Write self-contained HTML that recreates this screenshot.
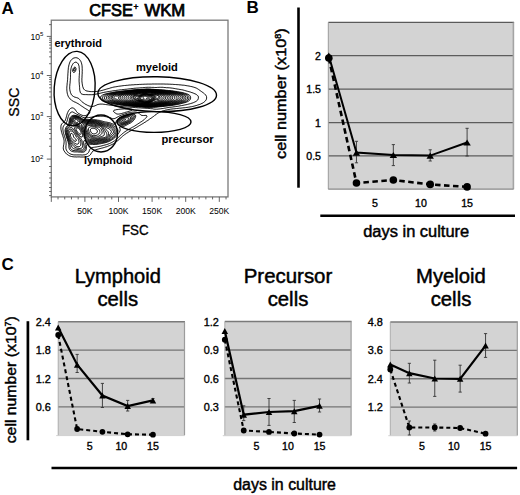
<!DOCTYPE html><html><head><meta charset="utf-8"><style>html,body{margin:0;padding:0;background:#fff;}svg{display:block;}text{font-family:"Liberation Sans",sans-serif;fill:#000;}</style></head><body>
<svg width="520" height="495" viewBox="0 0 520 495">
<rect width="520" height="495" fill="#fff"/>
<text x="1.6" y="13.7" font-size="17" text-anchor="start" font-weight="bold" >A</text>
<text x="246.4" y="13.4" font-size="17" text-anchor="start" font-weight="bold" >B</text>
<text x="1.5" y="270" font-size="17" text-anchor="start" font-weight="bold" >C</text>
<rect x="51.3" y="20.2" width="176.7" height="176.7" fill="none" stroke="#7a7a7a" stroke-width="1.3"/>
<path d="M51.3 36.4h-4.5M51.3 24.63h-2.2M51.3 75.5h-4.5M51.3 63.73h-2.2M51.3 56.84h-2.2M51.3 51.96h-2.2M51.3 48.17h-2.2M51.3 45.07h-2.2M51.3 42.46h-2.2M51.3 40.19h-2.2M51.3 38.19h-2.2M51.3 116.6h-4.5M51.3 104.23h-2.2M51.3 96.99h-2.2M51.3 91.86h-2.2M51.3 87.87h-2.2M51.3 84.62h-2.2M51.3 81.87h-2.2M51.3 79.48h-2.2M51.3 77.38h-2.2M51.3 159.1h-4.5M51.3 146.31h-2.2M51.3 138.82h-2.2M51.3 133.51h-2.2M51.3 129.39h-2.2M51.3 126.03h-2.2M51.3 123.18h-2.2M51.3 120.72h-2.2M51.3 118.54h-2.2M51.3 166.5h-2.2M51.3 172.5h-2.2M51.3 178h-2.2M51.3 183h-2.2M51.3 187.5h-2.2M51.3 191.5h-2.2M51.3 195.6h-2.2" stroke="#555" stroke-width="0.9" fill="none"/>
<text x="43.4" y="39.5" font-size="8.6" text-anchor="end">10<tspan font-size="6" dy="-3.6">5</tspan></text>
<text x="43.4" y="78.6" font-size="8.6" text-anchor="end">10<tspan font-size="6" dy="-3.6">4</tspan></text>
<text x="43.4" y="119.7" font-size="8.6" text-anchor="end">10<tspan font-size="6" dy="-3.6">3</tspan></text>
<text x="43.4" y="162.2" font-size="8.6" text-anchor="end">10<tspan font-size="6" dy="-3.6">2</tspan></text>
<path d="M51.3 196.9v5M58.02 196.9v2.5M64.74 196.9v2.5M71.46 196.9v2.5M78.18 196.9v2.5M84.9 196.9v5M91.62 196.9v2.5M98.34 196.9v2.5M105.06 196.9v2.5M111.78 196.9v2.5M118.5 196.9v5M125.22 196.9v2.5M131.94 196.9v2.5M138.66 196.9v2.5M145.38 196.9v2.5M152.1 196.9v5M158.82 196.9v2.5M165.54 196.9v2.5M172.26 196.9v2.5M178.98 196.9v2.5M185.7 196.9v5M192.42 196.9v2.5M199.14 196.9v2.5M205.86 196.9v2.5M212.58 196.9v2.5M219.3 196.9v5M226.02 196.9v2.5" stroke="#555" stroke-width="0.9" fill="none"/>
<text x="84.9" y="214" font-size="8.6" text-anchor="middle" font-weight="normal" >50K</text>
<text x="118.5" y="214" font-size="8.6" text-anchor="middle" font-weight="normal" >100K</text>
<text x="152.1" y="214" font-size="8.6" text-anchor="middle" font-weight="normal" >150K</text>
<text x="185.7" y="214" font-size="8.6" text-anchor="middle" font-weight="normal" >200K</text>
<text x="219.3" y="214" font-size="8.6" text-anchor="middle" font-weight="normal" >250K</text>
<text x="121.9" y="234.6" font-size="14.2" text-anchor="start" font-weight="normal" stroke="#000" stroke-width="0.3" textLength="26.8" lengthAdjust="spacingAndGlyphs">FSC</text>
<text transform="translate(18.5 102.1) rotate(-90)" font-size="14.2" text-anchor="middle" stroke="#000" stroke-width="0.3">SSC</text>
<text x="89.3" y="15.7" font-size="16" text-anchor="start" font-weight="normal" stroke="#000" stroke-width="0.75" textLength="43.6" lengthAdjust="spacingAndGlyphs">CFSE</text>
<text x="133.6" y="9.6" font-size="8.5" text-anchor="start" font-weight="normal" stroke="#000" stroke-width="0.5" >+</text>
<text x="144.4" y="15.7" font-size="16" text-anchor="start" font-weight="normal" stroke="#000" stroke-width="0.75" textLength="40.8" lengthAdjust="spacingAndGlyphs">WKM</text>
<text x="54.4" y="46.9" font-size="11" text-anchor="start" font-weight="bold" textLength="47.5" lengthAdjust="spacingAndGlyphs">erythroid</text>
<text x="136" y="71.1" font-size="11" text-anchor="start" font-weight="bold" textLength="41.9" lengthAdjust="spacingAndGlyphs">myeloid</text>
<text x="161.5" y="143.1" font-size="11" text-anchor="start" font-weight="bold" textLength="52.2" lengthAdjust="spacingAndGlyphs">precursor</text>
<text x="84" y="163.6" font-size="11" text-anchor="start" font-weight="bold" textLength="48.3" lengthAdjust="spacingAndGlyphs">lymphoid</text>
<g id="contours" fill="none" stroke="#000" stroke-width="1">
<path d="M84.2 157 83.5 157 82.8 157 82 157 81.2 157 80.5 157 79.8 156.9 79 156.9 78.2 156.9 77.5 156.9 76.8 157 76 156.9 75.2 156.9 74.5 156.9 73.8 156.8 73 156.8 72.2 156.6 71.5 156.5 70.8 156.3 70 156 69.2 155.7 68.5 155.3 67.8 154.8 67 154.3 66.4 153.8 65.9 153.2 65.2 152.6 64.8 152 64.3 151.2 63.9 150.5 63.6 149.8 63.4 149 63.3 148.2 63.3 147.5 63.4 146.8 63.5 146 63.6 145.2 63.8 144.5 63.9 143.8 64 143 64.1 142.2 64.1 141.5 64.1 140.8 64 140 63.8 139.2 63.6 138.5 63.4 137.8 63.2 137 62.9 136.2 62.7 135.5 62.4 134.8 62.2 134 61.9 133.2 61.7 132.5 61.5 131.8 61.3 131 61.2 130.2 61 129.5 60.9 128.8 60.9 128 60.9 127.2 60.9 126.5 61 125.8 61.2 125 61.6 124.2 62.2 123.5 62.7 123 63.2 122.5 63.8 122 64.4 121.5 65 120.8 65.4 120 65.7 119.2 65.9 118.5 66.1 117.8 66.3 117 66.5 116.3 66.7 115.5 66.9 114.8 67.1 114 67.4 113.2 67.7 112.5 68 111.8 68.4 111 68.8 110.4 69.2 109.8 69.8 109.1 70.5 108.5 71.2 108.1 72 107.9 72.8 107.9 73.5 108.2 74.2 108.6 74.9 109.2 75.5 110 76 110.8 76.5 111.5 77 112.1 77.5 112.7 78.2 113.2 79 113.7 79.8 114.1 80.5 114.5 81.2 114.9 82 115.2 82.8 115.5 83.5 115.6 84.2 115.7 85 115.6 85.7 115.5 86.4 115.2 87.2 114.9 87.9 114.5 88.7 114 89.2 113.5 89.7 112.8 89.8 112 89.3 111.2 88.8 110.8 88.1 110.2 87.5 109.8 86.8 109.4 86 108.9 85.3 108.5 84.5 108 83.8 107.5 83 107 82.3 106.5 81.5 106 80.8 105.5 80.1 105 79.5 104.6 78.8 104.1 78 103.6 77.2 103.2 76.5 102.8 75.8 102.4 75 102.1 74.2 101.8 73.5 101.4 72.8 101 72 100.5 71.3 100 70.8 99.5 70.2 99 69.5 98.2 69 97.5 68.5 96.8 68.1 96 67.8 95.2 67.6 94.5 67.4 93.8 67.2 93 67.1 92.2 67 91.5 66.9 90.8 66.9 90 66.8 89.2 66.8 88.5 66.8 87.8 66.9 87 66.9 86.2 67 85.5 67.1 84.8 67.1 84 67.2 83.2 67.3 82.5 67.4 81.8 67.4 81 67.5 80.2 67.6 79.5 67.6 78.8 67.7 78 67.7 77.2 67.7 76.5 67.8 75.8 67.8 75 67.9 74.2 67.9 73.5 68 72.8 68 72 68.1 71.2 68.1 70.5 68.2 69.8 68.3 69 68.3 68.2 68.4 67.5 68.6 66.8 68.7 66 68.9 65.2 69.1 64.5 69.3 63.8 69.5 63 69.9 62.2 70.2 61.5 70.6 60.8 71.2 60 71.8 59.4 72.5 58.8 73.2 58.3 74 58 74.8 57.8 75.5 57.7 76.2 57.7 77 57.9 77.8 58.2 78.5 58.6 79.2 59.2 79.8 59.7 80.2 60.4 80.6 61 81 61.7 81.3 62.5 81.5 63.2 81.7 64 81.9 64.8 82 65.5 82.1 66.2 82.1 67 82.2 67.8 82.2 68.5 82.2 69.2 82.2 70 82.3 70.8 82.2 71.5 82.2 72.2 82.2 73 82.2 73.8 82.1 74.5 82.1 75.2 82 76 82 76.8 82 77.5 81.9 78.2 81.9 79 81.9 79.8 81.9 80.5 81.9 81.2 82 82 82.1 82.8 82.2 83.5 82.3 84.2 82.4 85 82.6 85.8 82.7 86.5 83 87.2 83.2 88 83.6 88.8 84.2 89.5 84.7 90 85.5 90.5 86.2 90.8 87 91 87.8 91.2 88.5 91.3 89.2 91.4 90 91.5 90.8 91.6 91.5 91.6 92.2 91.6 93 91.6 93.8 91.6 94.5 91.6 95.2 91.5 96 91.5 96.8 91.4 97.5 91.3 98.2 91.2 99 91.1 99.8 90.9 100.5 90.8 101.2 90.6 102 90.4 102.8 90.2 103.5 90 104.2 89.8 105 89.6 105.8 89.3 106.5 89.1 107.2 88.9 108 88.7 108.8 88.5 109.5 88.3 110.2 88 111 87.8 111.8 87.6 112.5 87.4 113.2 87.2 114 87.1 114.8 86.9 115.5 86.8 116.2 86.7 117 86.6 117.8 86.4 118.5 86.3 119.2 86.2 120 86.1 120.8 86 121.5 85.9 122.2 85.8 123 85.7 123.8 85.6 124.5 85.5 125.2 85.5 126 85.4 126.8 85.3 127.5 85.3 128.2 85.2 129 85.1 129.8 85 130.5 85 131.2 84.9 132 84.9 132.8 84.8 133.5 84.8 134.2 84.7 135 84.7 135.8 84.6 136.5 84.6 137.2 84.6 138 84.5 138.8 84.5 139.5 84.4 140.2 84.4 141 84.4 141.8 84.3 142.5 84.3 143.2 84.3 144 84.2 144.8 84.2 145.5 84.2 146.2 84.2 147 84.1 147.8 84.1 148.5 84.1 149.2 84.1 150 84.1 150.8 84.1 151.5 84.1 152.2 84 153 84 153.8 84 154.5 84 155.2 84 156 84 156.8 84 157.5 84 158.2 84 159 84 159.8 84 160.5 84 161.2 84 162 84 162.8 84 163.5 84 164.2 84 165 84.1 165.8 84.1 166.5 84.1 167.2 84.1 168 84.1 168.8 84.2 169.5 84.2 170.2 84.2 171 84.3 171.8 84.3 172.5 84.3 173.2 84.4 174 84.4 174.8 84.5 175.5 84.5 176.2 84.6 177 84.6 177.8 84.7 178.5 84.7 179.2 84.8 180 84.9 180.8 84.9 181.5 85 182.2 85.1 183 85.2 183.7 85.2 184.5 85.3 185.2 85.4 186 85.6 186.8 85.7 187.5 85.8 188.2 85.9 189 86.1 189.8 86.2 190.5 86.4 191.2 86.5 192 86.7 192.8 86.9 193.5 87.1 194.2 87.3 195 87.6 195.8 87.9 196.5 88.2 197.2 88.6 197.9 89 198.5 89.4 199.2 89.9 200 90.5 200.7 91 201.4 91.5 202 91.9 202.8 92.5 203.5 93 204.1 93.5 204.7 94 205.2 94.5 205.8 95.1 206.2 95.8 206.5 96.5 206.6 97.2 206.6 98 206.5 98.8 206.3 99.5 205.9 100.2 205.3 101 204.8 101.5 204.2 102 203.5 102.5 202.8 103 202 103.4 201.2 103.7 200.5 104.1 199.8 104.4 199 104.6 198.2 104.9 197.5 105.1 196.8 105.4 196 105.6 195.2 105.8 194.5 106 193.8 106.2 193 106.4 192.3 106.5 191.5 106.7 190.8 106.8 190 106.9 189.2 107.1 188.5 107.2 187.8 107.3 187 107.4 186.2 107.5 185.5 107.6 184.8 107.7 184 107.8 183.2 107.8 182.5 107.9 181.8 108 181 108.1 180.2 108.2 179.5 108.2 178.8 108.3 178 108.4 177.2 108.5 176.5 108.5 175.8 108.6 175 108.7 174.2 108.8 173.5 108.8 172.8 108.9 172 109 171.2 109.1 170.5 109.2 169.8 109.3 169 109.5 168.2 109.6 167.5 109.7 166.8 109.9 166 110.1 165.3 110.2 164.5 110.5 163.8 110.7 163 110.9 162.2 111.1 161.5 111.4 160.8 111.7 160 112 159.2 112.3 158.5 112.8 157.8 113.2 157 113.7 156.3 114.2 155.8 114.7 155 115.2 154.4 115.8 153.8 116.2 153.1 116.8 152.4 117.2 151.8 117.7 151 118.2 150.2 118.7 149.5 119.2 148.8 119.8 148 120.2 147.3 120.8 146.5 121.2 145.8 121.8 145 122.2 144.2 122.7 143.5 123.2 142.8 123.6 142.1 124 141.5 124.4 140.9 124.8 140.2 125.1 139.6 125.5 139 125.9 138.4 126.2 137.8 126.6 137.1 127 136.5 127.4 135.8 127.8 135 128.2 134.2 128.7 133.5 129.1 132.9 129.5 132.2 129.9 131.6 130.2 130.8 130.7 130 131.2 129.2 131.6 128.6 132 128 132.4 127.2 132.9 126.6 133.2 126 133.7 125.2 134.2 124.5 134.7 123.8 135.2 123.2 135.8 122.6 136.2 122 136.7 121.4 137.2 120.9 137.8 120.4 138.2 119.8 138.8 119.3 139.2 118.8 139.8 118.2 140.2 117.6 140.8 117 141.2 116.4 141.8 115.8 142.2 115 142.7 114.2 143.2 113.5 143.7 112.8 144.1 112 144.5 111.2 144.9 110.5 145.2 109.8 145.5 109 145.8 108.2 146.1 107.5 146.4 106.8 146.7 106 146.9 105.2 147.1 104.5 147.4 103.8 147.6 103 147.8 102.3 148 101.5 148.2 100.8 148.4 100 148.6 99.2 148.8 98.5 149 97.8 149.2 97 149.4 96.2 149.6 95.6 149.8 94.8 150 94 150.4 93.4 150.8 92.8 151.2 92.2 151.9 91.8 152.5 91.3 153.2 90.9 154 90.3 154.8 89.8 155.3 89.2 155.8 88.5 156.1 87.8 156.5 87 156.7 86.2 156.8 85.5 156.9 84.8 157ZM119.3 114 120 113.9 120.8 113.7 121.5 113.5 122.2 113.3 123 113.1 123.8 112.9 124.5 112.7 125.2 112.4 126 112.2 126.8 112 127.4 111.8 128.2 111.5 129 111.3 129.8 111 130.5 110.8 131.2 110.5 132 110.1 132 109.4 131.2 109.2 130.5 109.1 129.8 109 129 108.9 128.2 108.9 127.5 108.9 126.8 108.9 126 108.9 125.2 108.9 124.5 108.9 123.8 108.9 123 109 122.3 109 121.5 109.1 120.8 109.1 120 109.2 119.2 109.3 118.5 109.4 117.8 109.5 117 109.6 116.2 109.7 115.5 109.9 114.8 110 114 110.3 113.5 110.9 113.7 111.8 114.2 112.3 114.8 112.8 115.5 113.2 116.2 113.7 117 114 117.8 114.1 118.5 114.1 119.2 114ZM158.8 109 158 109.1 157.2 109.2 156.5 109.2 155.8 109.2 155 109.2 154.2 109.1 153.5 109 152.8 108.8 152 108.7 151.2 108.7 150.5 108.6 149.8 108.5 149 108.5 148.2 108.4 147.5 108.4 146.8 108.3 146 108.3 145.2 108.2 144.5 108.2 143.8 108.1 143 108.1 142.2 108 141.5 108 140.8 107.9 140 107.9 139.2 107.8 138.5 107.8 137.8 107.8 137 107.7 136.2 107.6 135.5 107.6 134.8 107.5 134 107.5 133.2 107.4 132.5 107.4 131.8 107.3 131 107.3 130.2 107.2 129.5 107.1 128.8 107.1 128 107 127.2 107 126.5 106.9 125.8 106.9 125 106.8 124.3 106.8 123.5 106.7 122.8 106.6 122 106.6 121.2 106.5 120.5 106.4 119.8 106.4 119 106.3 118.2 106.2 117.5 106.1 116.8 106 116 105.9 115.2 105.8 114.5 105.7 113.8 105.6 113 105.5 112.2 105.4 111.5 105.3 110.8 105.2 110 105.1 109.2 105 108.5 104.9 107.8 104.8 107 104.7 106.2 104.6 105.5 104.5 104.8 104.4 104 104.3 103.2 104.2 102.5 104.1 101.8 104.1 101 104.1 100.2 104.1 99.5 104.2 98.8 104.3 98 104.5 97.2 104.7 96.5 105.1 95.8 105.4 95 105.8 94.2 106.1 93.5 106.3 92.8 106.5 92 106.5 91.2 106.5 90.5 106.3 89.8 106.2 89 105.9 88.2 105.6 87.5 105.3 86.8 104.9 86 104.5 85.2 104.1 84.5 103.6 83.9 103.2 83.2 102.8 82.6 102.2 82 101.8 81.5 101.3 81 100.8 80.5 100.2 80 99.7 79.5 99.2 78.8 98.6 78 98.1 77.2 97.8 76.5 97.6 75.8 97.4 75 97.2 74.2 96.9 73.5 96.5 72.8 96 72.1 95.5 71.5 94.8 71.1 94 70.8 93.3 70.5 92.6 70.3 91.8 70.1 91 69.9 90.2 69.8 89.5 69.7 88.8 69.7 88 69.7 87.2 69.7 86.5 69.8 85.8 69.8 85 69.9 84.2 70 83.5 70.1 82.8 70.1 82 70.2 81.2 70.3 80.5 70.3 79.8 70.4 79 70.4 78.2 70.5 77.5 70.5 76.8 70.5 76 70.5 75.2 70.5 74.5 70.5 73.8 70.5 73 70.6 72.2 70.6 71.5 70.7 70.8 70.8 70 70.9 69.2 71 68.5 71.2 67.8 71.4 67 71.7 66.2 72 65.5 72.4 64.8 72.8 64.1 73.2 63.5 73.7 63 74.5 62.5 75.2 62.2 76 62.2 76.8 62.5 77.5 63 78 63.6 78.4 64.2 78.7 65 78.9 65.8 79.1 66.5 79.1 67.2 79.2 68 79.3 68.8 79.3 69.5 79.4 70.2 79.4 71 79.5 71.8 79.5 72.5 79.4 73.2 79.4 74 79.3 74.8 79.3 75.5 79.2 76.2 79.2 77 79.2 77.8 79.1 78.5 79.1 79.2 79.1 80 79.1 80.8 79.1 81.5 79.2 82.2 79.2 83 79.3 83.8 79.3 84.5 79.4 85.2 79.5 86 79.5 86.8 79.6 87.5 79.6 88.2 79.7 89 79.7 89.8 79.8 90.5 80 91.2 80.2 92 80.5 92.8 81 93.5 81.7 94 82.5 94.3 83.2 94.5 84 94.6 84.8 94.6 85.5 94.6 86.2 94.6 87 94.6 87.8 94.7 88.5 94.7 89.2 94.7 90 94.7 90.8 94.7 91.5 94.7 92.2 94.7 93 94.6 93.8 94.5 94.5 94.4 95.2 94.3 96 94.1 96.8 94 97.5 93.8 98.2 93.7 99 93.5 99.8 93.3 100.5 93.2 101.2 93 102 92.8 102.8 92.6 103.5 92.5 104.2 92.3 105 92.2 105.8 92 106.5 91.9 107.2 91.8 108 91.6 108.8 91.5 109.5 91.4 110.2 91.3 111 91.2 111.8 91.1 112.5 90.9 113.2 90.8 114 90.7 114.8 90.6 115.5 90.5 116.2 90.4 117 90.3 117.8 90.2 118.5 90.1 119.2 90 120 89.9 120.8 89.8 121.5 89.8 122.2 89.6 123 89.6 123.8 89.5 124.5 89.4 125.2 89.3 126 89.3 126.8 89.2 127.5 89.1 128.2 89 129 88.9 129.8 88.8 130.5 88.7 131.2 88.6 132 88.5 132.8 88.5 133.5 88.4 134.2 88.3 135 88.2 135.8 88.2 136.5 88.1 137.2 88.1 138 88 138.8 88 139.5 87.9 140.2 87.8 141 87.8 141.8 87.7 142.5 87.7 143.2 87.6 144 87.5 144.8 87.5 145.5 87.4 146.2 87.4 147 87.3 147.8 87.3 148.5 87.3 149.2 87.3 150 87.3 150.8 87.3 151.5 87.4 152.2 87.4 153 87.4 153.8 87.4 154.5 87.5 155.2 87.5 156 87.5 156.8 87.5 157.5 87.4 158.2 87.4 159 87.3 159.8 87.3 160.5 87.3 161.2 87.3 162 87.3 162.8 87.3 163.5 87.4 164.2 87.5 165 87.5 165.8 87.6 166.5 87.7 167.2 87.7 168 87.7 168.8 87.8 169.5 87.8 170.2 87.9 171 88 171.8 88.1 172.5 88.2 173.2 88.3 174 88.4 174.8 88.6 175.5 88.7 176.2 88.8 177 89 177.8 89.1 178.5 89.2 179.2 89.3 180 89.5 180.8 89.6 181.5 89.7 182.2 89.8 183 90 183.8 90.2 184.5 90.4 185.2 90.6 186 90.9 186.8 91.1 187.5 91.3 188.2 91.5 189 91.7 189.8 91.9 190.5 92.1 191.2 92.4 192 92.6 192.8 92.9 193.5 93.2 194.2 93.5 195 93.8 195.8 94.2 196.5 94.6 197.1 95 197.6 95.5 198.2 96.2 198.4 97 198.4 97.8 198.3 98.5 198.1 99.2 197.8 99.9 197.2 100.4 196.5 101 195.8 101.5 195 101.9 194.4 102.2 193.5 102.6 192.8 102.9 192 103.1 191.2 103.4 190.5 103.6 189.8 103.8 189 104 188.2 104.2 187.5 104.4 186.8 104.6 186 104.7 185.2 104.9 184.5 105 183.8 105.2 183 105.3 182.2 105.5 181.5 105.6 180.8 105.7 180 105.9 179.2 106 178.5 106.2 177.8 106.3 177 106.4 176.2 106.5 175.5 106.6 174.8 106.7 174 106.8 173.2 106.9 172.5 107 171.8 107.1 171 107.2 170.2 107.3 169.5 107.4 168.8 107.5 168 107.6 167.2 107.7 166.5 107.8 165.8 108 165 108.1 164.2 108.2 163.5 108.4 162.8 108.5 162 108.6 161.2 108.7 160.5 108.8 159.8 108.9 159 109ZM84.8 154.8 84 154.9 83.2 154.9 82.5 155 81.8 155 81 154.9 80.2 154.9 79.5 154.9 78.8 154.9 78 154.9 77.2 154.9 76.5 154.9 75.8 154.9 75 154.9 74.2 154.9 73.5 154.8 72.8 154.7 72 154.5 71.2 154.3 70.5 154 69.8 153.7 69.1 153.2 68.5 152.8 67.9 152.2 67.2 151.5 66.8 150.8 66.4 150 66.1 149.2 65.9 148.5 65.9 147.8 65.9 147 65.9 146.2 66 145.5 66.1 144.8 66.1 144 66.1 143.2 66.1 142.5 66 141.8 65.9 141 65.7 140.2 65.5 139.5 65.3 138.8 65.1 138 64.8 137.2 64.6 136.5 64.3 135.8 64.1 135 63.9 134.2 63.6 133.5 63.4 132.8 63.2 132 63.1 131.2 63 130.5 62.9 129.8 62.9 129 62.9 128.2 63 127.5 63.2 126.8 63.6 126 64 125.4 64.5 124.8 65 124.3 65.5 123.8 66 123.2 66.5 122.5 66.8 121.8 67.1 121 67.3 120.2 67.5 119.5 67.7 118.8 67.9 118 68.1 117.2 68.3 116.5 68.6 115.8 68.9 115 69.2 114.3 69.8 113.5 70.2 112.9 71 112.3 71.7 112 72.5 111.9 73.2 112.2 74 112.6 74.6 113 75.2 113.4 75.9 113.8 76.5 114.1 77.2 114.4 78 114.7 78.8 115.1 79.5 115.4 80.2 115.8 81 116.2 81.8 116.7 82.5 117.1 83.2 117.4 84 117.7 84.8 117.8 85.5 117.8 86.2 117.8 87 117.8 87.8 117.7 88.5 117.6 89.2 117.5 90 117.4 90.8 117.3 91.5 117.2 92.2 117 93 116.9 93.8 116.8 94.5 116.6 95.2 116.5 96 116.5 96.8 116.4 97.5 116.3 98.2 116.3 99 116.3 99.8 116.2 100.5 116.2 101.2 116.2 102 116.2 102.8 116.2 103.5 116.3 104.2 116.4 105 116.5 105.8 116.7 106.5 116.8 107.2 117 108 117.2 108.8 117.4 109.5 117.6 110.2 117.8 111 118.1 111.8 118.4 112.5 118.6 113.2 118.7 114 118.7 114.8 118.5 115.5 118.2 116.2 117.8 117 117.3 117.8 116.9 118.5 116.5 119.2 116.1 120 115.8 120.8 115.4 121.5 115.1 122.2 114.8 123 114.6 123.8 114.3 124.5 114.1 125.2 113.8 126 113.6 126.8 113.4 127.5 113.1 128.2 112.9 129 112.8 129.8 112.6 130.5 112.4 131.2 112.3 132 112.2 132.8 112.1 133.5 112.1 134.2 112 135 112 135.8 112.1 136.5 112.2 137.2 112.4 138 112.7 138.8 113.1 139.5 113.7 140 114.2 140.6 114.8 141.2 115.2 142 115.4 142.8 115.5 143.5 115.5 144.2 115.5 145 115.4 145.8 115.4 146.5 115.5 147 116.2 146.6 117 146 117.8 145.5 118.3 145 118.8 144.3 119.5 143.7 120 143 120.5 142.3 121 141.8 121.4 141 121.9 140.4 122.2 139.8 122.7 139 123.2 138.2 123.7 137.5 124.2 136.8 124.7 136 125.2 135.2 125.6 134.7 126 134 126.4 133.4 126.8 132.5 127.2 131.8 127.6 131.1 128 130.2 128.5 129.5 128.9 128.8 129.3 128.1 129.8 127.3 130.2 126.5 130.7 125.8 131.2 125 131.7 124.3 132.2 123.6 132.8 123 133.2 122.3 133.8 121.8 134.2 121.2 134.8 120.6 135.2 120.1 135.8 119.6 136.2 119.1 136.8 118.6 137.2 118.1 137.8 117.6 138.2 117.1 138.8 116.5 139.2 115.9 139.8 115.3 140.2 114.6 140.8 114 141.1 113.2 141.6 112.6 142 111.8 142.5 111 142.9 110.2 143.2 109.6 143.5 108.8 143.8 108 144.1 107.2 144.4 106.5 144.6 105.8 144.8 105 145 104.2 145.2 103.5 145.4 102.8 145.6 102 145.8 101.2 146 100.5 146.2 99.8 146.3 99 146.5 98.2 146.6 97.5 146.7 96.8 146.9 96 147 95.2 147.1 94.5 147.2 93.8 147.3 93 147.4 92.2 147.5 91.5 147.8 90.8 148.2 90.2 148.8 89.8 149.5 89.5 150.2 89.2 150.9 88.9 151.8 88.5 152.4 88.1 153 87.5 153.6 86.9 154 86.2 154.3 85.5 154.6 84.8 154.8ZM74.2 72.4 73.5 72.4 72.9 71.8 72.7 71 72.7 70.2 72.9 69.5 73.1 68.8 73.5 68.1 74 67.5 74.8 67.1 75.5 67.4 75.9 68.2 76 69 75.9 69.8 75.7 70.5 75.3 71.2 74.8 72ZM151.8 107.3 151 107.3 150.2 107.3 149.5 107.3 148.8 107.3 148 107.3 147.2 107.3 146.5 107.3 145.8 107.3 145 107.2 144.2 107.2 143.5 107.1 142.8 107 142 107 141.2 106.9 140.5 106.9 139.8 106.8 139 106.8 138.2 106.7 137.5 106.7 136.8 106.6 136 106.6 135.2 106.5 134.5 106.4 133.8 106.4 133 106.3 132.2 106.3 131.5 106.2 130.8 106.1 130 106.1 129.2 106 128.5 105.9 127.8 105.8 127 105.8 126.2 105.7 125.5 105.6 124.8 105.5 124 105.4 123.2 105.3 122.5 105.2 121.8 105.2 121 105.1 120.2 105 119.5 104.9 118.8 104.8 118 104.6 117.2 104.5 116.5 104.4 115.8 104.3 115 104.2 114.2 104 113.5 103.9 112.8 103.7 112 103.5 111.2 103.4 110.5 103.2 109.8 103 109 102.9 108.2 102.7 107.5 102.6 106.8 102.4 106 102.2 105.3 102 104.6 101.8 103.8 101.4 103 101.1 102.4 100.8 101.8 100.3 101.1 99.8 100.8 99.1 100.5 98.2 100.6 97.5 100.7 96.8 101.2 96 101.8 95.5 102.5 95.1 103.1 94.8 104 94.4 104.8 94.2 105.5 93.9 106.2 93.8 107 93.5 107.8 93.4 108.5 93.2 109.2 93 110 92.9 110.8 92.8 111.5 92.6 112.2 92.5 113 92.3 113.8 92.2 114.5 92.1 115.2 91.9 116 91.8 116.8 91.7 117.5 91.6 118.2 91.6 119 91.5 119.8 91.4 120.5 91.3 121.2 91.2 122 91.1 122.8 91 123.5 90.9 124.2 90.8 125 90.8 125.8 90.7 126.5 90.6 127.2 90.6 128 90.5 128.8 90.4 129.5 90.3 130.2 90.2 131 90.1 131.8 90.1 132.5 90 133.2 89.9 134 89.8 134.8 89.8 135.5 89.7 136.2 89.7 137 89.6 137.8 89.6 138.5 89.5 139.2 89.5 140 89.4 140.8 89.4 141.5 89.3 142.2 89.3 143 89.3 143.8 89.2 144.5 89.2 145.2 89.1 146 89.1 146.8 89 147.5 89 148.2 89 149 89.1 149.8 89.1 150.5 89.1 151.2 89.2 152 89.2 152.8 89.3 153.5 89.3 154.2 89.4 155 89.4 155.8 89.5 156.5 89.5 157.2 89.6 158 89.6 158.8 89.7 159.5 89.7 160.2 89.8 161 89.8 161.8 89.8 162.5 89.9 163.2 90 164 90 164.8 90.1 165.5 90.2 166.2 90.3 167 90.4 167.8 90.4 168.5 90.5 169.2 90.5 170 90.6 170.8 90.7 171.5 90.8 172.2 90.8 173 91 173.8 91.1 174.5 91.2 175.2 91.3 176 91.4 176.8 91.5 177.5 91.7 178.2 91.8 179 91.9 179.8 92.1 180.5 92.2 181.2 92.3 182 92.5 182.8 92.7 183.5 92.8 184.2 93.1 184.9 93.2 185.8 93.5 186.5 93.7 187.2 94 188 94.3 188.8 94.7 189.5 95.2 190 95.8 190.5 96.5 190.6 97.2 190.6 98 190.5 98.8 190.2 99.5 189.8 100.1 189.2 100.6 188.5 101.1 187.9 101.5 187.2 101.8 186.5 102.1 185.8 102.4 185 102.6 184.2 102.8 183.5 103 182.8 103.2 182 103.4 181.2 103.6 180.6 103.8 179.8 104 179 104.1 178.2 104.3 177.5 104.5 176.8 104.6 176 104.7 175.2 104.9 174.5 105 173.8 105.1 173 105.2 172.2 105.4 171.5 105.5 170.8 105.6 170 105.7 169.2 105.8 168.5 105.8 167.8 105.9 167 106 166.2 106.1 165.5 106.2 164.8 106.2 164 106.4 163.2 106.5 162.5 106.5 161.8 106.6 161 106.7 160.2 106.7 159.5 106.8 158.8 106.9 158 106.9 157.2 107 156.5 107.1 155.8 107.1 155 107.2 154.2 107.2 153.5 107.2 152.8 107.2 152 107.2ZM83.5 152.1 82.8 152.2 82 152.2 81.2 152.2 80.5 152.1 79.8 152.1 79 152 78.2 152 77.5 151.9 76.8 151.9 76 151.9 75.2 151.9 74.5 151.9 73.8 151.8 73 151.7 72.3 151.5 71.5 151.2 70.8 150.8 70.2 150.3 69.8 149.7 69.4 149 69.1 148.2 68.9 147.5 68.9 146.8 68.8 146 68.8 145.2 68.7 144.5 68.6 143.8 68.4 143 68.2 142.2 68 141.5 67.7 140.8 67.5 140 67.2 139.2 66.9 138.5 66.7 137.8 66.5 137 66.2 136.2 66 135.5 65.8 134.8 65.6 134 65.4 133.2 65.3 132.5 65.2 131.8 65.1 131 65.1 130.2 65.2 129.5 65.4 128.8 65.6 128 66 127.4 66.4 126.8 67 126.1 67.5 125.5 68 124.9 68.4 124.2 68.7 123.5 68.9 122.8 69.1 122 69.2 121.2 69.3 120.5 69.4 119.8 69.6 119 69.9 118.2 70.2 117.5 70.8 116.8 71.2 116.3 72 115.8 72.7 115.5 73.5 115.3 74.2 115.3 75 115.4 75.8 115.5 76.5 115.6 77.2 115.8 78 116.1 78.8 116.4 79.4 116.8 80.2 117.2 80.9 117.8 81.5 118.2 82.2 118.7 83 119.1 83.8 119.3 84.5 119.5 85.2 119.5 86 119.6 86.8 119.6 87.5 119.6 88.2 119.6 89 119.7 89.8 119.7 90.5 119.7 91.2 119.7 92 119.7 92.8 119.7 93.5 119.7 94.2 119.7 95 119.8 95.8 119.8 96.5 119.9 97.2 120.1 98 120.2 98.8 120.3 99.5 120.4 100.2 120.6 100.9 120.8 101.7 121 102.4 121.2 103.2 121.5 104 121.7 104.8 121.9 105.5 122 106.2 122.1 107 122.2 107.8 122.4 108.5 122.5 109.2 122.7 110 122.9 110.8 123.2 111.5 123.5 112.2 123.8 113 124.1 113.8 124.2 114.5 124.2 115.2 123.8 115.6 123 115.8 122.2 116.2 121.5 116.6 120.8 117 120.1 117.5 119.5 118 118.9 118.7 118.2 119.4 117.8 120 117.3 120.8 116.9 121.5 116.5 122.2 116.2 123 115.9 123.8 115.6 124.5 115.4 125.2 115.1 126 114.9 126.8 114.7 127.5 114.5 128.2 114.3 129 114.1 129.8 114 130.5 113.9 131.2 113.8 132 113.8 132.8 113.9 133.5 114 134.2 114.2 135 114.6 135.5 115.2 135.7 116 135.6 116.8 135.4 117.5 135 118.2 134.6 119 134.1 119.8 133.5 120.5 133 121.1 132.3 121.8 131.6 122.2 130.8 122.8 130 123.2 129.2 123.6 128.5 124 127.8 124.4 127.1 124.8 126.2 125.2 125.5 125.6 124.8 126 124 126.2 123.2 126.5 122.5 126.6 121.8 126.7 121 126.8 120.2 126.9 119.5 127.2 119.7 128 120 128.7 120.2 129.5 120.2 130.2 119.9 131 119.5 131.8 119.1 132.5 118.5 133.2 118 134 117.5 134.7 117.1 135.2 116.5 135.9 116 136.5 115.5 137.1 114.8 137.8 114.2 138.2 113.5 138.8 112.8 139.2 112.1 139.8 111.3 140.2 110.5 140.7 109.8 141.1 109 141.4 108.3 141.8 107.5 142 106.8 142.3 106 142.5 105.2 142.7 104.5 142.9 103.8 143.1 103 143.2 102.2 143.4 101.5 143.5 100.8 143.7 100 143.8 99.2 143.9 98.5 144.1 97.8 144.2 97 144.3 96.2 144.4 95.5 144.5 94.8 144.5 94 144.5 93.2 144.5 92.5 144.4 91.8 144.4 91 144.3 90.2 144.3 89.5 144.2 88.8 144.1 88 144.1 87.2 144.3 86.8 144.8 86.5 145.8 86.5 146.5 86.5 147.2 86.4 148 86.3 148.8 86.2 149.5 85.9 150.2 85.4 151 84.8 151.5 84 151.9ZM74.2 71 73.5 70.5 73.5 69.8 73.8 69 74.3 68.5 75 68.7 75.1 69.5 74.9 70.2 74.3 71ZM150.8 107 150 107 149.2 107.1 148.5 107.1 147.8 107.1 147 107.1 146.2 107 145.5 107 144.8 107 144 106.9 143.2 106.9 142.5 106.8 141.8 106.7 141 106.6 140.2 106.6 139.5 106.6 138.8 106.5 138 106.5 137.2 106.4 136.5 106.4 135.8 106.3 135 106.2 134.2 106.2 133.5 106.1 132.8 106 132 106 131.2 105.9 130.5 105.8 129.8 105.7 129 105.7 128.2 105.6 127.5 105.5 126.8 105.4 126 105.3 125.2 105.2 124.5 105.2 123.8 105.1 123 105 122.2 104.9 121.5 104.8 120.8 104.7 120 104.5 119.2 104.4 118.5 104.3 117.8 104.2 117 104.1 116.2 104 115.5 103.8 114.8 103.7 114 103.5 113.2 103.3 112.5 103.1 111.8 102.9 111 102.8 110.2 102.6 109.5 102.4 108.8 102.2 108 102 107.2 101.9 106.5 101.6 105.8 101.4 105 101 104.2 100.6 103.5 100 103 99.4 102.7 98.8 102.6 98 102.7 97.2 102.9 96.5 103.5 95.8 104.2 95.2 105 94.9 105.8 94.6 106.5 94.3 107.2 94.1 108 93.8 108.8 93.6 109.5 93.5 110.2 93.3 111 93.2 111.8 93 112.5 92.8 113.2 92.7 114 92.5 114.8 92.4 115.5 92.3 116.2 92.2 117 92.1 117.8 92 118.5 91.9 119.2 91.8 120 91.7 120.8 91.6 121.5 91.5 122.2 91.4 123 91.3 123.8 91.2 124.5 91.1 125.2 91 126 91 126.8 90.9 127.5 90.8 128.2 90.8 129 90.7 129.8 90.6 130.5 90.5 131.2 90.4 132 90.3 132.8 90.2 133.5 90.2 134.2 90.1 135 90 135.8 90 136.5 89.9 137.2 89.9 138 89.8 138.8 89.8 139.5 89.8 140.2 89.7 141 89.6 141.8 89.6 142.5 89.5 143.2 89.5 144 89.4 144.8 89.4 145.5 89.4 146.2 89.3 147 89.3 147.8 89.3 148.5 89.3 149.2 89.3 150 89.4 150.8 89.4 151.5 89.5 152.2 89.5 153 89.6 153.8 89.6 154.5 89.7 155.2 89.7 156 89.8 156.8 89.8 157.5 89.9 158.2 90 159 90 159.8 90.1 160.5 90.1 161.2 90.2 162 90.2 162.8 90.3 163.5 90.3 164.2 90.4 165 90.5 165.8 90.6 166.5 90.7 167.2 90.8 168 90.8 168.8 90.9 169.5 90.9 170.2 91 171 91.1 171.8 91.2 172.5 91.3 173.2 91.4 174 91.5 174.8 91.6 175.5 91.8 176.2 91.9 177 92 177.8 92.2 178.5 92.3 179.2 92.5 180 92.6 180.8 92.8 181.5 92.9 182.2 93.1 183 93.3 183.8 93.5 184.5 93.8 185.2 94 186 94.3 186.8 94.7 187.4 95 188 95.4 188.5 95.9 188.9 96.8 189 97.5 189 98.2 188.8 99 188.4 99.8 187.8 100.4 187 101 186.2 101.4 185.5 101.7 184.8 102 184 102.2 183.2 102.4 182.5 102.6 181.8 102.8 181 103 180.3 103.2 179.5 103.5 178.8 103.7 178 103.9 177.2 104 176.5 104.2 175.8 104.3 175 104.5 174.2 104.6 173.5 104.7 172.8 104.9 172 105 171.2 105.1 170.5 105.2 169.8 105.3 169 105.4 168.2 105.5 167.5 105.5 166.8 105.6 166 105.7 165.2 105.8 164.5 105.9 163.8 106 163 106.1 162.2 106.2 161.5 106.2 160.8 106.3 160 106.4 159.2 106.5 158.5 106.5 157.8 106.6 157 106.7 156.3 106.8 155.5 106.8 154.8 106.9 154 106.9 153.2 106.9 152.5 107 151.8 107 151 107ZM123 125.3 122.2 125.4 121.5 125.4 120.8 125.3 120 125.2 119.2 125 118.5 124.7 117.9 124.2 117.3 123.5 117 122.8 117 122 117.2 121.2 117.5 120.6 118 119.8 118.5 119.1 119 118.6 119.8 118 120.5 117.5 121.2 117.1 121.9 116.8 122.8 116.4 123.5 116.1 124.2 115.8 125 115.6 125.8 115.4 126.5 115.2 127.2 115 128 114.8 128.8 114.6 129.5 114.5 130.2 114.4 131 114.4 131.8 114.4 132.5 114.5 133.2 114.7 134 115.2 134.4 116 134.4 116.8 134.2 117.4 133.9 118.2 133.5 118.9 133 119.7 132.5 120.2 132 120.8 131.3 121.2 130.8 121.7 130 122.1 129.4 122.5 128.8 122.8 128 123.2 127.2 123.6 126.6 124 125.8 124.4 125 124.7 124.2 125 123.5 125.2ZM83 151.1 82.2 151.2 81.5 151.2 80.8 151.1 80 151.1 79.2 151 78.5 150.9 77.8 150.8 77 150.8 76.2 150.7 75.5 150.7 74.8 150.6 74 150.6 73.2 150.4 72.5 150.2 71.8 149.8 71.2 149.2 70.6 148.5 70.3 147.8 70.1 147 70 146.2 69.9 145.5 69.7 144.8 69.5 144 69.3 143.2 69 142.5 68.8 141.8 68.4 141 68.1 140.2 67.9 139.5 67.6 138.8 67.3 138 67.1 137.2 66.8 136.5 66.6 135.8 66.4 135 66.2 134.2 66.1 133.5 65.9 132.8 65.8 132 65.8 131.2 65.8 130.5 65.9 129.8 66.2 129 66.5 128.2 67 127.5 67.5 126.9 68 126.3 68.5 125.8 69 125.1 69.4 124.2 69.5 123.5 69.6 122.8 69.7 122 69.8 121.2 69.9 120.5 70 119.8 70.2 119 70.6 118.2 71 117.6 71.5 117 72.2 116.5 73 116.1 73.8 115.9 74.5 115.9 75.2 115.9 76 115.9 76.8 116.1 77.5 116.3 78.2 116.6 79 116.9 79.8 117.4 80.5 117.9 81.2 118.5 81.9 119 82.5 119.4 83.2 119.7 84 119.9 84.8 120 85.5 120 86.2 120.1 87 120.1 87.8 120.1 88.5 120.2 89.2 120.2 90 120.2 90.8 120.2 91.5 120.2 92.2 120.2 93 120.3 93.8 120.3 94.5 120.4 95.2 120.5 96 120.6 96.8 120.7 97.5 120.9 98.2 121 99 121.2 99.8 121.3 100.5 121.6 101.2 121.8 102 122.1 102.8 122.4 103.5 122.6 104.2 122.9 105 123 105.8 123.2 106.5 123.3 107.2 123.4 108 123.5 108.8 123.7 109.5 123.9 110.2 124.2 110.9 124.5 111.8 124.9 112.5 125.3 113.2 125.7 114 126.1 114.8 126.5 115.5 127 116.1 127.5 116.8 128.2 117.2 128.8 117.7 129.5 117.9 130.2 117.9 131 117.8 131.8 117.5 132.5 117.1 133.2 116.8 133.9 116.2 134.7 115.8 135.4 115.3 136 114.8 136.6 114 137.2 113.4 137.8 112.8 138.2 112.1 138.8 111.5 139.2 110.8 139.7 110 140.2 109.4 140.5 108.5 140.9 107.8 141.2 107.1 141.5 106.3 141.8 105.5 142 104.8 142.2 104 142.3 103.2 142.4 102.5 142.6 101.8 142.7 101 142.8 100.2 142.9 99.5 143.1 98.8 143.2 98 143.4 97.2 143.5 96.5 143.6 95.8 143.7 95 143.7 94.2 143.7 93.5 143.7 92.8 143.6 92 143.6 91.2 143.5 90.5 143.4 89.8 143.3 89 143.2 88.2 143 87.5 142.8 86.8 142.7 86 142.7 85.3 143.2 85.1 144 85.1 144.8 85.2 145.5 85.3 146.2 85.4 147 85.4 147.8 85.3 148.5 85.1 149.2 84.8 149.9 84.2 150.4 83.5 150.9ZM80.7 134.2 81.1 133.5 81.1 132.8 80.9 132 80.7 131.2 80.3 130.5 79.9 129.8 79.3 129 78.7 128.5 78 128.1 77.2 127.9 76.5 128.1 76 128.6 76.1 129.5 76.4 130.2 76.9 131 77.4 131.8 78 132.5 78.5 133.1 79 133.6 79.8 134.2 80.5 134.4ZM150.8 106.8 150 106.8 149.2 106.8 148.5 106.8 147.8 106.8 147 106.8 146.2 106.8 145.5 106.8 144.8 106.7 144 106.7 143.2 106.6 142.5 106.5 141.8 106.5 141 106.4 140.2 106.3 139.5 106.3 138.8 106.3 138 106.2 137.2 106.2 136.5 106.1 135.8 106 135 106 134.2 105.9 133.5 105.8 132.8 105.8 132 105.7 131.2 105.6 130.5 105.6 129.8 105.5 129 105.4 128.2 105.3 127.5 105.2 126.8 105.1 126 105 125.2 104.9 124.5 104.8 123.8 104.7 123 104.6 122.2 104.5 121.5 104.4 120.8 104.3 120 104.2 119.2 104 118.5 103.9 117.8 103.8 117 103.7 116.2 103.5 115.5 103.4 114.8 103.2 114 103 113.2 102.8 112.5 102.6 111.8 102.4 111 102.2 110.2 101.9 109.5 101.7 108.8 101.5 108 101.3 107.2 101.1 106.5 100.8 105.8 100.3 105.1 99.8 104.6 99 104.5 98.2 104.5 97.5 104.7 96.8 105.2 96 105.8 95.6 106.5 95.1 107.2 94.8 107.9 94.5 108.7 94.2 109.5 94 110.2 93.8 111 93.6 111.8 93.5 112.5 93.3 113.2 93.1 114 92.9 114.8 92.8 115.5 92.6 116.2 92.5 117 92.4 117.8 92.4 118.5 92.3 119.2 92.2 120 92.1 120.8 91.9 121.5 91.8 122.2 91.7 123 91.6 123.8 91.5 124.5 91.4 125.2 91.3 126 91.3 126.8 91.2 127.5 91.1 128.2 91 129 90.9 129.8 90.8 130.5 90.8 131.2 90.7 132 90.6 132.8 90.5 133.5 90.4 134.2 90.3 135 90.3 135.8 90.2 136.5 90.2 137.2 90.1 138 90.1 138.8 90 139.5 90 140.2 89.9 141 89.9 141.8 89.8 142.5 89.8 143.2 89.7 144 89.7 144.8 89.6 145.5 89.6 146.2 89.6 147 89.5 147.8 89.5 148.5 89.5 149.2 89.6 150 89.6 150.8 89.7 151.5 89.7 152.2 89.8 153 89.8 153.8 89.9 154.5 89.9 155.2 90 156 90 156.8 90.1 157.5 90.2 158.2 90.2 159 90.3 159.8 90.4 160.5 90.4 161.2 90.5 162 90.5 162.8 90.6 163.5 90.7 164.2 90.7 165 90.8 165.8 90.9 166.5 91 167.2 91.1 168 91.2 168.8 91.2 169.5 91.3 170.2 91.4 171 91.5 171.8 91.6 172.5 91.7 173.2 91.8 174 91.9 174.8 92 175.5 92.2 176.2 92.3 177 92.5 177.8 92.6 178.5 92.8 179.2 93 180 93.1 180.8 93.3 181.5 93.5 182.2 93.7 183 94 183.8 94.2 184.4 94.5 185.2 94.9 186 95.2 186.6 95.8 187.2 96.5 187.5 97.2 187.5 98 187.4 98.8 187 99.5 186.5 100.1 185.8 100.6 185.1 101 184.2 101.3 183.5 101.6 182.8 101.8 182 102.1 181.2 102.3 180.5 102.6 179.8 102.8 179 103 178.3 103.2 177.5 103.5 176.8 103.6 176 103.8 175.2 104 174.5 104.1 173.8 104.2 173 104.4 172.2 104.5 171.5 104.7 170.8 104.8 170 104.9 169.2 105 168.5 105.1 167.8 105.1 167 105.2 166.2 105.2 165.5 105.3 164.8 105.4 164 105.6 163.2 105.7 162.5 105.8 161.8 105.9 161 105.9 160.2 106 159.5 106.1 158.8 106.2 158 106.3 157.2 106.4 156.5 106.4 155.8 106.5 155 106.6 154.2 106.6 153.5 106.6 152.8 106.7 152 106.7 151.2 106.7ZM122.5 124.5 121.8 124.5 121 124.4 120.3 124.2 119.5 123.9 118.8 123.5 118.2 122.8 118 122 118 121.2 118.2 120.6 118.7 119.8 119.2 119.1 119.8 118.5 120.5 118 121.2 117.5 122 117.1 122.8 116.8 123.5 116.5 124.2 116.3 125 116.1 125.8 115.8 126.5 115.6 127.2 115.4 128 115.3 128.8 115.1 129.5 115 130.2 115 131 115 131.8 115.2 132.5 115.5 133 116 133.2 116.8 133.1 117.5 132.8 118.2 132.5 118.9 132.1 119.5 131.5 120.1 130.8 120.8 130.1 121.2 129.3 121.8 128.5 122.2 127.8 122.6 127 123 126.2 123.4 125.5 123.7 124.8 124 124.1 124.2 123.2 124.4 122.5 124.5ZM82.5 149.8 81.8 150 81 150 80.2 149.9 79.5 149.8 78.8 149.7 78 149.6 77.2 149.5 76.5 149.3 75.8 149.2 75 149.1 74.2 148.9 73.5 148.6 72.8 148.1 72.2 147.6 71.8 146.8 71.4 146 71.1 145.2 70.8 144.5 70.5 143.8 70.1 143 69.8 142.2 69.4 141.5 69 140.8 68.7 140 68.4 139.2 68.1 138.5 67.8 137.8 67.6 137 67.3 136.2 67.1 135.5 66.9 134.8 66.8 134 66.7 133.2 66.6 132.5 66.5 131.8 66.6 131 66.7 130.2 66.9 129.5 67.2 128.8 67.8 128.1 68.2 127.5 68.8 127 69.4 126.5 70 125.8 70.4 125 70.4 124.2 70.4 123.5 70.4 122.8 70.4 122 70.4 121.2 70.5 120.5 70.6 119.8 70.9 119 71.2 118.3 71.8 117.6 72.5 117 73.2 116.6 74 116.4 74.8 116.3 75.5 116.3 76.2 116.4 77 116.6 77.8 116.8 78.5 117.1 79.2 117.5 79.9 118 80.5 118.5 81.1 119 81.7 119.5 82.5 120 83.2 120.3 84 120.4 84.8 120.5 85.5 120.6 86.2 120.6 87 120.6 87.8 120.6 88.5 120.7 89.2 120.7 90 120.7 90.8 120.7 91.5 120.8 92.2 120.8 93 120.9 93.8 120.9 94.5 121 95.2 121.1 96 121.3 96.8 121.4 97.5 121.6 98.2 121.7 99 121.9 99.8 122.1 100.5 122.4 101.2 122.6 102 122.9 102.7 123.2 103.4 123.5 104.1 123.8 105 124 105.8 124.1 106.5 124.3 107.2 124.4 108 124.5 108.8 124.7 109.5 125 110.2 125.3 111 125.7 111.8 126.2 112.5 126.7 113.2 127.1 114 127.6 114.8 128.2 115.3 128.8 115.8 129.4 116.1 130 116.3 130.8 116.3 131.5 116.2 132.2 115.9 133 115.6 133.8 115.1 134.5 114.5 135.2 114 135.8 113.3 136.5 112.7 137 112.1 137.5 111.6 138 111 138.5 110.4 139 109.8 139.4 109 139.8 108.2 140.2 107.5 140.6 106.8 140.9 106 141.1 105.2 141.3 104.6 141.5 103.8 141.6 103 141.8 102.2 141.9 101.5 141.9 100.8 142 100 142.2 99.2 142.3 98.5 142.4 97.8 142.6 97 142.8 96.2 142.9 95.5 142.9 94.8 143 94 142.9 93.2 142.9 92.5 142.9 91.8 142.8 91 142.7 90.2 142.6 89.5 142.5 88.8 142.2 88.1 142 87.2 141.7 86.5 141.4 85.8 141 85.1 140.8 84.2 140.6 83.8 141.2 83.6 142 83.6 142.8 83.6 143.5 83.7 144.2 83.8 145 84 145.8 84.1 146.5 84.2 147.2 84.1 148 83.8 148.8 83.2 149.4 82.5 149.8ZM82.2 137 82.4 136.2 82.5 135.5 82.4 134.8 82.4 134 82.3 133.2 82.1 132.5 81.9 131.8 81.5 131 81.1 130.2 80.8 129.6 80.3 129 79.8 128.3 79.1 127.8 78.5 127.3 77.8 127.1 77 127 76.2 127 75.5 127.1 74.8 127.4 74.4 128 74.5 128.8 74.8 129.5 75.2 130.2 75.8 130.9 76.2 131.5 76.7 132.2 77.2 133 77.8 133.7 78.2 134.2 78.8 134.9 79.2 135.4 79.9 136 80.5 136.5 81.2 137 82 137.1ZM150.8 106.5 150 106.5 149.2 106.6 148.5 106.6 147.8 106.6 147 106.6 146.2 106.6 145.5 106.6 144.8 106.5 144 106.5 143.2 106.4 142.5 106.3 141.8 106.2 141 106.2 140.2 106.1 139.5 106.1 138.8 106 138 106 137.2 105.9 136.5 105.8 135.8 105.8 135 105.7 134.2 105.6 133.5 105.6 132.8 105.5 132 105.5 131.2 105.4 130.5 105.3 129.8 105.2 129 105.1 128.2 105 127.5 104.9 126.8 104.8 126 104.7 125.2 104.6 124.5 104.5 123.8 104.4 123 104.3 122.2 104.2 121.5 104.1 120.8 103.9 120 103.8 119.2 103.6 118.5 103.5 117.8 103.3 117 103.2 116.2 103.1 115.5 102.9 114.8 102.8 114 102.5 113.2 102.3 112.5 102 111.8 101.8 111.1 101.5 110.4 101.2 109.6 101 108.9 100.8 108.2 100.5 107.5 100.1 106.8 99.5 106.4 98.8 106.4 98 106.5 97.2 106.7 96.5 107.2 95.9 108 95.3 108.8 94.9 109.5 94.6 110.2 94.4 111 94.2 111.8 93.9 112.5 93.7 113.2 93.5 114 93.3 114.8 93.1 115.5 93 116.2 92.9 117 92.8 117.8 92.8 118.5 92.7 119.2 92.6 120 92.4 120.8 92.3 121.5 92.2 122.2 92.1 123 91.9 123.8 91.8 124.5 91.7 125.2 91.6 126 91.6 126.8 91.5 127.5 91.4 128.2 91.3 129 91.2 129.8 91.1 130.5 91 131.2 90.9 132 90.8 132.8 90.7 133.5 90.7 134.2 90.6 135 90.5 135.8 90.5 136.5 90.4 137.2 90.4 138 90.3 138.8 90.3 139.5 90.2 140.2 90.2 141 90.1 141.8 90.1 142.5 90 143.2 90 144 89.9 144.8 89.9 145.5 89.8 146.2 89.8 147 89.8 147.8 89.7 148.5 89.8 149.2 89.8 150 89.9 150.8 89.9 151.5 90 152.2 90 153 90.1 153.8 90.1 154.5 90.2 155.2 90.2 156 90.3 156.8 90.4 157.5 90.4 158.2 90.5 159 90.6 159.8 90.6 160.5 90.7 161.2 90.8 162 90.8 162.8 90.9 163.5 91 164.2 91 165 91.1 165.8 91.3 166.5 91.4 167.2 91.4 168 91.5 168.8 91.6 169.5 91.6 170.2 91.7 171 91.8 171.8 91.9 172.5 92 173.2 92.2 174 92.3 174.8 92.4 175.5 92.6 176.2 92.8 177 92.9 177.8 93.1 178.5 93.3 179.2 93.5 180 93.7 180.8 93.9 181.5 94.1 182.2 94.4 183 94.7 183.7 95 184.5 95.5 185.1 96 185.7 96.8 185.9 97.5 185.8 98.2 185.6 99 185.1 99.8 184.5 100.2 183.8 100.6 183 100.9 182.2 101.2 181.5 101.5 180.9 101.8 180.2 102 179.5 102.2 178.8 102.5 178 102.8 177.2 103 176.5 103.2 175.8 103.4 175 103.5 174.2 103.7 173.5 103.9 172.8 104 172 104.2 171.2 104.3 170.5 104.4 169.8 104.5 169 104.6 168.2 104.7 167.5 104.8 166.8 104.8 166 104.9 165.2 105 164.5 105.1 163.8 105.2 163 105.4 162.2 105.5 161.5 105.6 160.8 105.6 160 105.7 159.2 105.8 158.5 105.9 157.8 106 157 106.1 156.2 106.2 155.5 106.2 154.8 106.3 154 106.4 153.2 106.4 152.5 106.4 151.8 106.5 151 106.5ZM122.8 123.8 122 123.8 121.2 123.6 120.5 123.4 119.8 123 119.3 122.5 118.9 121.8 118.9 121 119.1 120.2 119.5 119.6 120 119 120.6 118.5 121.2 118 122 117.6 122.8 117.3 123.5 117 124.2 116.8 125 116.6 125.8 116.4 126.5 116.2 127.2 116 128 115.8 128.8 115.7 129.5 115.7 130.2 115.7 131 115.9 131.7 116.5 131.9 117.2 131.9 118 131.6 118.8 131 119.5 130.5 120.1 129.9 120.5 129.2 121 128.5 121.4 127.8 121.9 127.1 122.2 126.2 122.7 125.5 123 124.8 123.3 124 123.6 123.2 123.7ZM96.5 142 95.8 142.1 95 142.2 94.2 142.2 93.5 142.1 92.8 142.1 92 142.1 91.2 142 90.5 141.9 89.8 141.8 89 141.5 88.3 141.2 87.5 140.8 86.8 140.4 86 139.8 85.4 139.2 84.8 138.5 84.4 137.8 84.1 137 83.8 136.2 83.6 135.5 83.5 134.8 83.3 134 83.2 133.2 83 132.5 82.7 131.8 82.4 131 82 130.3 81.5 129.5 81 128.8 80.5 128.1 80 127.6 79.4 127 78.8 126.6 78 126.3 77.2 126.2 76.5 126.1 75.8 126.1 75 126.1 74.2 126 73.5 126 72.8 125.8 72.1 125.2 71.7 124.5 71.4 123.8 71.2 123 71.1 122.2 71 121.5 71.1 120.8 71.2 120 71.4 119.2 71.8 118.6 72.2 118 72.9 117.5 73.5 117.2 74.2 116.9 75 116.8 75.8 116.8 76.5 116.9 77.2 117.1 78 117.3 78.8 117.7 79.5 118.2 80.1 118.8 80.6 119.2 81.1 119.8 81.7 120.2 82.5 120.7 83.2 120.9 84 121 84.8 121.1 85.5 121.1 86.2 121.1 87 121.1 87.8 121.2 88.5 121.2 89.2 121.2 90 121.2 90.8 121.3 91.5 121.3 92.2 121.4 93 121.4 93.8 121.5 94.5 121.6 95.2 121.7 96 121.9 96.8 122.1 97.5 122.2 98.2 122.4 99 122.6 99.8 122.9 100.5 123.1 101.2 123.4 102 123.7 102.6 124 103.5 124.4 104.2 124.6 105 124.9 105.8 125.1 106.5 125.2 107.2 125.4 108 125.6 108.8 125.8 109.5 126.1 110.2 126.5 111 127 111.8 127.5 112.4 128 113 128.4 113.7 129 114.2 129.6 114.6 130.2 114.9 131 114.9 131.8 114.8 132.5 114.5 133.2 114 134 113.5 134.6 112.8 135.2 112.2 135.8 111.5 136.5 111 137.1 110.5 137.7 109.9 138.2 109.2 138.7 108.5 139.2 107.8 139.7 107.1 140 106.2 140.3 105.5 140.6 104.8 140.8 104 140.9 103.2 141 102.5 141.1 101.8 141.1 101 141.2 100.2 141.3 99.5 141.4 98.8 141.5 98 141.7 97.2 141.9 96.5 142ZM81.2 148.3 80.5 148.4 79.8 148.5 79 148.4 78.2 148.3 77.5 148.2 76.8 148 76.1 147.8 75.2 147.4 74.5 147 73.9 146.5 73.4 146 72.8 145.2 72.2 144.5 71.8 143.8 71.2 143 70.8 142.3 70.3 141.5 69.8 140.8 69.4 140 69 139.2 68.7 138.5 68.4 137.8 68.2 137 67.9 136.2 67.8 135.5 67.6 134.8 67.4 134 67.4 133.2 67.3 132.5 67.3 131.8 67.4 131 67.6 130.2 68 129.5 68.5 128.8 69.2 128.2 69.8 127.9 70.5 127.6 71.2 127.5 71.9 127.8 72.5 128.2 73 128.8 73.5 129.5 74 130.1 74.5 130.7 75 131.3 75.5 131.9 75.9 132.5 76.5 133.2 77 134 77.5 134.7 78 135.4 78.5 136 79 136.5 79.5 137.1 80 137.7 80.5 138.2 81 138.9 81.4 139.5 81.8 140.2 82 141 82.1 141.8 82.2 142.5 82.3 143.2 82.3 144 82.4 144.8 82.4 145.5 82.5 146.2 82.4 147 82.1 147.8 81.5 148.2ZM150.8 106.3 150 106.3 149.2 106.3 148.5 106.4 147.8 106.4 147 106.4 146.2 106.4 145.5 106.4 144.8 106.3 144 106.2 143.2 106.2 142.5 106.1 141.8 106 141 105.9 140.2 105.8 139.5 105.8 138.8 105.8 138 105.7 137.2 105.7 136.5 105.6 135.8 105.5 135 105.4 134.2 105.4 133.5 105.3 132.8 105.3 132 105.2 131.2 105.1 130.5 105 129.8 104.9 129 104.8 128.2 104.7 127.5 104.5 126.8 104.4 126 104.3 125.2 104.2 124.5 104.2 123.8 104.1 123 104 122.2 103.8 121.5 103.7 120.8 103.5 120 103.3 119.2 103.2 118.6 103 117.8 102.8 117 102.7 116.2 102.6 115.5 102.4 114.8 102.2 114 102 113.2 101.7 112.5 101.3 111.8 101 111 100.7 110.2 100.3 109.6 100 109 99.6 108.5 99.1 108.2 98.2 108.1 97.5 108.3 96.8 108.8 96 109.4 95.5 110.2 95.1 111 94.8 111.7 94.5 112.3 94.2 113.1 94 113.8 93.8 114.5 93.6 115.2 93.5 116 93.4 116.8 93.3 117.5 93.2 118.2 93.1 119 93 119.8 92.9 120.5 92.8 121.2 92.6 122 92.5 122.8 92.3 123.5 92.2 124.2 92.1 125 92 125.8 91.9 126.5 91.8 127.2 91.7 128 91.6 128.8 91.5 129.5 91.4 130.2 91.3 131 91.2 131.8 91.1 132.5 91 133.2 90.9 134 90.8 134.8 90.8 135.5 90.7 136.2 90.6 137 90.6 137.8 90.6 138.5 90.5 139.2 90.5 140 90.4 140.8 90.4 141.5 90.3 142.2 90.3 143 90.2 143.8 90.1 144.5 90.1 145.2 90 146 90 146.8 90 147.5 90 148.2 90 149 90 149.8 90.1 150.5 90.2 151.2 90.2 152 90.2 152.8 90.3 153.5 90.3 154.2 90.4 155 90.4 155.8 90.5 156.5 90.6 157.2 90.7 158 90.8 158.8 90.8 159.5 90.9 160.2 90.9 161 91 161.8 91.1 162.5 91.1 163.2 91.2 164 91.3 164.8 91.4 165.5 91.5 166.2 91.6 167 91.8 167.8 91.8 168.5 91.9 169.2 92 170 92 170.8 92.1 171.5 92.2 172.2 92.4 173 92.5 173.8 92.6 174.5 92.8 175.2 93 176 93.1 176.8 93.3 177.5 93.5 178.2 93.8 179 94 179.8 94.2 180.5 94.4 181.2 94.7 182 95 182.8 95.4 183.5 96 184 96.7 184.2 97.5 184.2 98.2 183.9 99 183.2 99.7 182.5 100.2 181.9 100.5 181 100.9 180.2 101.2 179.6 101.5 178.8 101.8 178 102.1 177.2 102.4 176.5 102.6 175.8 102.9 175 103.1 174.2 103.2 173.5 103.4 172.8 103.6 172 103.7 171.2 103.9 170.5 104 169.8 104.2 169 104.2 168.2 104.3 167.5 104.4 166.8 104.4 166 104.5 165.2 104.6 164.5 104.7 163.8 104.9 163 105 162.2 105.1 161.5 105.2 160.8 105.3 160 105.4 159.2 105.5 158.5 105.6 157.8 105.7 157 105.8 156.2 105.9 155.5 106 154.8 106 154 106.1 153.2 106.1 152.5 106.2 151.8 106.2 151 106.2ZM122.8 123 122 123 121.2 122.8 120.5 122.4 120 121.8 119.8 121 119.9 120.2 120.4 119.5 121 118.9 121.8 118.3 122.5 117.9 123.2 117.6 124 117.4 124.8 117.2 125.5 117.1 126.2 116.9 127 116.8 127.8 116.6 128.5 116.5 129.2 116.6 129.9 116.8 130.5 117.2 130.7 118 130.4 118.8 130 119.4 129.5 119.9 128.8 120.5 128 120.9 127.2 121.4 126.6 121.8 125.8 122.2 125 122.5 124.3 122.8 123.5 122.9 122.8 123ZM96.2 141.3 95.5 141.3 94.8 141.4 94 141.4 93.2 141.4 92.5 141.4 91.8 141.3 91 141.3 90.2 141.1 89.5 140.9 88.8 140.6 88.1 140.2 87.3 139.8 86.8 139.3 86.3 138.8 85.8 138 85.3 137.2 85 136.5 84.8 135.8 84.5 135 84.3 134.2 84.1 133.5 83.9 132.8 83.6 132 83.3 131.2 82.9 130.5 82.5 129.9 82.1 129.2 81.6 128.5 81 127.8 80.5 127.1 80 126.6 79.3 126 78.5 125.7 77.8 125.5 77 125.4 76.2 125.3 75.5 125.2 74.8 125.1 74 124.8 73.3 124.5 72.7 124 72.2 123.4 71.9 122.5 71.8 121.8 71.7 121 71.8 120.2 72 119.5 72.4 118.8 73 118.1 73.8 117.7 74.5 117.4 75.2 117.3 76 117.3 76.8 117.4 77.5 117.6 78.2 118 79 118.4 79.7 119 80.2 119.6 80.8 120.2 81.2 120.8 82 121.4 82.8 121.6 83.5 121.7 84.2 121.7 85 121.7 85.8 121.7 86.5 121.7 87.2 121.7 88 121.7 88.8 121.7 89.5 121.7 90.2 121.7 91 121.8 91.8 121.8 92.5 121.9 93.2 122 94 122.1 94.8 122.2 95.5 122.4 96.2 122.6 97 122.8 97.8 123 98.5 123.2 99.2 123.4 100 123.6 100.8 123.9 101.5 124.2 102.1 124.5 103 124.9 103.7 125.2 104.5 125.6 105.2 125.9 106 126.1 106.8 126.4 107.5 126.6 108.2 126.8 109 127.1 109.8 127.5 110.5 128 111.1 128.5 111.7 129 112.2 129.5 112.8 130 113.2 130.7 113.5 131.5 113.4 132.2 113.1 133 112.5 133.6 111.8 134.2 111.3 134.8 110.8 135.5 110.3 136.2 109.8 137 109.2 137.6 108.5 138.2 107.8 138.8 107 139.2 106.2 139.6 105.5 139.8 104.8 140 104 140.2 103.2 140.3 102.5 140.3 101.8 140.4 101 140.4 100.2 140.5 99.5 140.6 98.8 140.8 98 140.9 97.2 141.1 96.5 141.2ZM79.5 146.5 78.8 146.7 78 146.7 77.2 146.6 76.5 146.3 75.8 145.9 75 145.4 74.3 144.8 73.8 144.3 73.3 143.8 72.8 143.2 72.2 142.6 71.8 142 71.2 141.4 70.8 140.8 70.2 140 69.8 139.2 69.4 138.5 69.1 137.8 68.8 137 68.6 136.2 68.4 135.5 68.3 134.8 68.2 134 68.1 133.2 68.2 132.5 68.2 131.8 68.5 131 68.8 130.2 69.5 129.6 70.2 129.2 71 129.2 71.7 129.5 72.4 130 73 130.5 73.5 131 74 131.5 74.5 132 75 132.6 75.5 133.2 76 134 76.4 134.8 76.9 135.5 77.5 136.2 78 136.9 78.5 137.4 78.9 138 79.5 138.8 79.9 139.5 80.3 140.2 80.6 141 80.8 141.7 80.8 142.5 80.9 143.2 80.8 144 80.7 144.8 80.5 145.5 80 146.2ZM151 106 150.2 106 149.5 106.1 148.8 106.1 148 106.2 147.2 106.2 146.5 106.2 145.8 106.1 145 106.1 144.2 106.1 143.5 106 142.8 105.9 142 105.8 141.2 105.7 140.5 105.6 139.8 105.6 139 105.5 138.2 105.5 137.5 105.4 136.8 105.4 136 105.3 135.2 105.2 134.5 105.1 133.8 105.1 133 105 132.2 105 131.5 104.9 130.8 104.8 130 104.6 129.2 104.5 128.5 104.4 127.8 104.2 127 104.1 126.2 104 125.5 103.9 124.8 103.8 124 103.8 123.2 103.6 122.5 103.5 121.8 103.3 121 103.1 120.2 102.9 119.5 102.7 118.8 102.5 118 102.3 117.2 102.2 116.5 102 115.8 101.9 115 101.7 114.2 101.4 113.5 101.1 112.8 100.8 112 100.3 111.2 99.8 110.5 99.2 110 98.6 109.7 97.8 109.7 97 110 96.4 110.5 95.8 111.2 95.3 111.9 95 112.8 94.6 113.5 94.3 114.2 94.1 115 94 115.8 93.9 116.5 93.8 117.2 93.8 118 93.7 118.8 93.6 119.5 93.5 120.2 93.3 121 93.1 121.8 92.9 122.5 92.8 123.2 92.6 124 92.4 124.8 92.3 125.5 92.2 126.2 92.1 127 92.1 127.8 92 128.5 91.9 129.2 91.8 130 91.6 130.8 91.5 131.5 91.4 132.2 91.3 133 91.2 133.8 91.1 134.5 91 135.2 90.9 136 90.9 136.8 90.8 137.5 90.8 138.2 90.8 139 90.7 139.8 90.7 140.5 90.6 141.2 90.5 142 90.5 142.8 90.4 143.5 90.4 144.2 90.3 145 90.3 145.8 90.2 146.5 90.2 147.2 90.2 148 90.2 148.8 90.2 149.5 90.3 150.2 90.4 151 90.4 151.8 90.5 152.5 90.5 153.2 90.5 154 90.6 154.8 90.6 155.5 90.7 156.2 90.8 157 90.9 157.8 91 158.5 91.1 159.2 91.1 160 91.2 160.8 91.3 161.5 91.3 162.2 91.4 163 91.5 163.8 91.6 164.5 91.7 165.2 91.8 166 91.9 166.8 92.1 167.5 92.1 168.2 92.2 169 92.3 169.8 92.4 170.5 92.4 171.2 92.6 172 92.7 172.8 92.8 173.5 93 174.2 93.2 175 93.4 175.8 93.6 176.5 93.8 177.2 94 177.9 94.2 178.6 94.5 179.3 94.8 180 95 180.8 95.3 181.5 95.7 182.2 96.2 182.6 97 182.7 97.8 182.5 98.4 182 99.2 181.3 99.8 180.5 100.2 179.8 100.6 179 101 178.2 101.3 177.5 101.7 176.8 102 176 102.2 175.2 102.5 174.5 102.6 173.8 102.8 173 103 172.2 103.2 171.5 103.4 170.8 103.5 170 103.7 169.2 103.8 168.5 103.9 167.8 104 167 104 166.2 104.1 165.5 104.2 164.8 104.3 164 104.4 163.2 104.6 162.5 104.7 161.8 104.9 161 105 160.2 105.1 159.5 105.1 158.8 105.2 158 105.4 157.2 105.5 156.5 105.6 155.8 105.7 155 105.8 154.2 105.8 153.5 105.9 152.8 105.9 152 106 151.2 106ZM124 122.1 123.2 122.2 122.5 122.2 121.8 122 121.1 121.5 120.8 120.8 120.9 120 121.5 119.3 122.2 118.8 123 118.4 123.8 118.1 124.5 118 125.2 117.9 126 117.8 126.8 117.8 127.5 117.7 128.2 117.8 128.9 118.2 128.8 119 128.2 119.6 127.5 120.2 126.8 120.8 126 121.2 125.2 121.6 124.5 121.9ZM96 140.5 95.2 140.5 94.5 140.5 93.8 140.6 93 140.6 92.2 140.6 91.5 140.6 90.8 140.5 90 140.3 89.3 140 88.5 139.5 87.8 139 87.3 138.5 86.8 137.8 86.3 137 85.9 136.2 85.6 135.5 85.3 134.8 85.1 134 84.8 133.2 84.6 132.5 84.3 131.8 83.9 131 83.5 130.2 83 129.5 82.6 128.8 82.1 128 81.5 127.2 81 126.5 80.5 125.8 80 125.3 79.2 124.9 78.5 124.7 77.8 124.7 77 124.6 76.2 124.5 75.5 124.3 74.8 124 74.1 123.8 73.5 123.3 73 122.8 72.6 122 72.4 121.2 72.4 120.5 72.6 119.8 73 119 73.5 118.5 74.2 118.1 75 117.9 75.8 117.8 76.5 117.9 77.2 118.1 78 118.4 78.8 118.9 79.3 119.5 79.9 120.2 80.3 121 80.8 121.7 81.2 122.2 82 122.5 82.8 122.5 83.5 122.4 84.2 122.4 85 122.3 85.8 122.3 86.5 122.3 87.2 122.3 88 122.2 88.8 122.2 89.5 122.2 90.2 122.3 91 122.3 91.8 122.4 92.5 122.5 93.2 122.6 94 122.7 94.8 122.8 95.5 123 96.2 123.2 97 123.4 97.8 123.6 98.5 123.8 99.2 124 100 124.2 100.7 124.5 101.5 124.9 102.2 125.2 103 125.7 103.8 126.1 104.4 126.5 105 126.9 105.7 127.2 106.5 127.6 107.2 128 108 128.3 108.8 128.7 109.4 129.2 110 129.7 110.6 130.2 111.2 131 111.4 131.8 111.2 132.5 110.8 133.1 110.3 133.8 109.8 134.5 109.5 135.2 109.2 136 108.8 136.7 108.3 137.2 107.8 137.8 107.1 138.2 106.5 138.6 105.8 139 105 139.2 104.2 139.4 103.5 139.5 102.8 139.6 102 139.6 101.2 139.6 100.5 139.7 99.8 139.8 99 140 98.2 140.2 97.5 140.3 96.8 140.4 96 140.5ZM78 144 77.2 144.2 76.5 144.1 75.8 143.8 75 143.4 74.4 143 73.8 142.5 73.2 142 72.7 141.5 72 140.8 71.5 140.2 71 139.6 70.6 139 70.1 138.2 69.8 137.5 69.5 136.8 69.3 136 69.2 135.2 69.1 134.5 69.1 133.8 69.1 133 69.3 132.2 69.6 131.5 70.2 131 71 130.9 71.8 131.1 72.5 131.6 73.2 132.2 73.8 132.7 74.2 133.3 74.7 134 75.1 134.8 75.5 135.5 75.9 136.2 76.4 137 77 137.6 77.5 138.1 78 138.8 78.4 139.5 78.7 140.2 78.9 141 79 141.8 78.9 142.5 78.7 143.2 78.2 143.9ZM151 105.8 150.2 105.8 149.5 105.8 148.8 105.9 148 105.9 147.2 105.9 146.5 105.9 145.8 105.9 145 105.9 144.2 105.9 143.5 105.8 142.8 105.7 142 105.5 141.2 105.4 140.5 105.4 139.8 105.3 139 105.3 138.2 105.2 137.5 105.2 136.8 105.1 136 105 135.2 104.9 134.5 104.9 133.8 104.8 133 104.8 132.2 104.7 131.5 104.6 130.8 104.5 130 104.3 129.2 104.2 128.5 104 127.8 103.9 127 103.8 126.2 103.6 125.5 103.5 124.8 103.5 124 103.4 123.2 103.3 122.5 103.1 121.8 102.9 121 102.7 120.2 102.4 119.5 102.1 118.8 101.9 118 101.7 117.2 101.5 116.5 101.4 115.8 101.2 115 101 114.2 100.7 113.5 100.3 112.8 99.8 112.1 99.2 111.5 98.5 111.2 97.8 111.1 97 111.4 96.2 111.9 95.8 112.7 95.2 113.5 94.9 114.2 94.6 115 94.4 115.8 94.4 116.5 94.3 117.2 94.3 118 94.3 118.8 94.2 119.5 94 120.2 93.8 121 93.6 121.8 93.4 122.5 93.1 123.2 93 124 92.8 124.8 92.7 125.5 92.6 126.2 92.5 127 92.4 127.8 92.3 128.5 92.2 129.2 92 130 91.9 130.8 91.8 131.5 91.7 132.2 91.5 133 91.4 133.8 91.3 134.5 91.2 135.2 91.2 136 91.1 136.8 91.1 137.5 91 138.2 91 139 90.9 139.8 90.9 140.5 90.8 141.2 90.8 142 90.7 142.8 90.6 143.5 90.6 144.2 90.5 145 90.5 145.8 90.4 146.5 90.4 147.2 90.4 148 90.4 148.8 90.5 149.5 90.5 150.2 90.6 151 90.7 151.8 90.7 152.5 90.7 153.2 90.7 154 90.8 154.8 90.8 155.5 90.9 156.2 91 157 91.1 157.8 91.2 158.5 91.3 159.2 91.4 160 91.5 160.8 91.5 161.5 91.6 162.2 91.7 163 91.8 163.8 91.8 164.5 92 165.2 92.1 166 92.2 166.8 92.4 167.5 92.5 168.2 92.6 169 92.6 169.8 92.7 170.5 92.8 171.2 93 172 93.1 172.8 93.3 173.5 93.5 174.2 93.7 175 93.9 175.8 94.1 176.5 94.4 177.2 94.7 178 95 178.8 95.3 179.5 95.7 180.2 96.1 180.9 96.8 181.1 97.5 180.9 98.2 180.5 98.9 179.8 99.5 179 100 178.2 100.5 177.5 100.9 176.8 101.3 176 101.6 175.2 101.9 174.5 102.1 173.8 102.2 173 102.4 172.2 102.6 171.5 102.8 170.8 103 170 103.2 169.2 103.4 168.5 103.5 167.8 103.6 167 103.6 166.2 103.7 165.5 103.8 164.8 103.9 164 104.1 163.3 104.2 162.5 104.4 161.8 104.5 161 104.6 160.2 104.7 159.5 104.8 158.8 104.9 158 105.1 157.2 105.2 156.5 105.3 155.8 105.4 155 105.5 154.2 105.6 153.5 105.6 152.8 105.7 152 105.7 151.2 105.7ZM78.5 123.5 77.8 123.6 77 123.7 76.2 123.5 75.5 123.3 74.8 123 74.1 122.5 73.5 121.8 73.3 121 73.3 120.2 73.6 119.5 74.1 119 75 118.6 75.8 118.5 76.5 118.6 77.2 118.8 78 119.2 78.6 119.8 79.1 120.5 79.4 121.2 79.5 122 79.4 122.8 78.8 123.4ZM123.8 121 123 121 122.2 120.5 122.5 119.8 123.2 119.2 124 119.1 124.8 119.1 125.5 119.4 125.3 120.2 124.6 120.8 123.8 121ZM96.2 139.8 95.5 139.8 94.8 139.7 94 139.7 93.2 139.7 92.5 139.7 91.8 139.7 91 139.6 90.2 139.4 89.5 139 88.8 138.5 88.2 138 87.8 137.4 87.4 136.8 87 136.1 86.6 135.2 86.2 134.6 85.9 133.8 85.5 133 85.2 132.3 84.9 131.5 84.5 130.8 84.1 130 83.8 129.4 83.4 128.8 82.9 128 82.5 127.4 82.1 126.8 81.8 126 81.5 125.3 81.5 124.5 82 124 82.8 123.6 83.5 123.3 84.2 123.2 85 123.1 85.8 123 86.5 123 87.2 122.9 88 122.9 88.8 122.8 89.5 122.8 90.2 122.8 91 122.9 91.8 123 92.5 123.1 93.2 123.2 94 123.3 94.8 123.5 95.5 123.7 96.2 123.9 97 124.1 97.7 124.2 98.5 124.4 99.2 124.6 100 124.9 100.8 125.2 101.4 125.5 102.2 126 103 126.5 103.6 127 104.2 127.5 104.7 128 105.2 128.6 105.8 129.1 106.2 129.7 106.8 130.2 107.2 130.7 107.7 131.2 108.2 132 108.5 132.8 108.5 133.5 108.5 134.2 108.3 135 108.1 135.8 107.8 136.4 107.3 137 106.8 137.5 106 138 105.2 138.3 104.5 138.5 103.8 138.7 103 138.7 102.2 138.8 101.5 138.8 100.8 138.9 100 139.1 99.2 139.2 98.5 139.4 97.8 139.6 97 139.7 96.2 139.8ZM75.8 141.3 75 141.3 74.2 140.9 73.5 140.2 73 139.6 72.5 139.1 72 138.6 71.5 138 71 137.3 70.7 136.5 70.5 135.8 70.4 135 70.5 134.2 70.8 133.5 71.8 133.4 72.4 133.8 73 134.5 73.2 135.2 73.4 136 73.6 136.8 74 137.5 74.5 138.1 75.2 138.7 75.9 139.2 76.3 140 76.3 140.8 75.8 141.3ZM151 105.5 150.2 105.6 149.5 105.6 148.8 105.6 148 105.7 147.2 105.7 146.5 105.7 145.8 105.7 145 105.7 144.2 105.6 143.5 105.5 142.8 105.4 142 105.3 141.2 105.2 140.5 105.1 139.8 105.1 139 105 138.2 105 137.5 104.9 136.8 104.8 136 104.7 135.2 104.6 134.5 104.6 133.8 104.5 133 104.5 132.2 104.4 131.5 104.3 130.8 104.2 130 104 129.2 103.8 128.5 103.7 127.8 103.5 127 103.4 126.3 103.2 125.5 103.2 124.8 103.1 124 103 123.2 102.8 122.5 102.7 121.8 102.4 121 102.1 120.2 101.8 119.6 101.5 118.8 101.2 118 100.9 117.2 100.7 116.5 100.5 115.8 100.3 115 100.1 114.3 99.8 113.8 99.4 113.1 98.8 112.6 98 112.4 97.2 112.5 96.5 113 95.9 113.8 95.4 114.5 95.1 115.2 95 116 95 116.8 95 117.5 95 118.2 94.9 119 94.7 119.8 94.4 120.5 94.2 121.2 93.9 122 93.7 122.7 93.5 123.5 93.3 124.2 93.1 125 93 125.8 92.8 126.4 92.8 127.2 92.6 128 92.5 128.8 92.4 129.5 92.3 130.2 92.2 131 92 131.8 91.9 132.5 91.8 133.2 91.6 134 91.5 134.8 91.4 135.5 91.4 136.2 91.3 137 91.3 137.8 91.2 138.5 91.2 139.2 91.2 140 91.1 140.8 91 141.5 91 142.2 90.9 143 90.8 143.8 90.8 144.5 90.7 145.2 90.6 146 90.6 146.8 90.6 147.5 90.6 148.2 90.6 149 90.7 149.8 90.8 150.5 90.8 151.2 90.9 152 90.9 152.8 90.9 153.5 91 154.2 91 155 91.1 155.8 91.2 156.5 91.3 157.2 91.4 158 91.5 158.8 91.6 159.5 91.6 160.2 91.7 161 91.8 161.8 91.9 162.5 92 163.2 92.1 164 92.2 164.8 92.3 165.5 92.5 166.2 92.6 167 92.8 167.8 92.9 168.5 93 169.2 93.1 170 93.2 170.8 93.3 171.5 93.5 172.2 93.7 173 93.9 173.8 94.1 174.5 94.4 175.2 94.6 176 94.9 176.6 95.2 177.5 95.8 178.2 96.2 178.7 96.8 179.1 97.5 179 98.2 178.5 99 178 99.5 177.2 100.2 176.5 100.7 175.8 101 175.1 101.2 174.2 101.5 173.5 101.6 172.8 101.8 172 102 171.3 102.2 170.6 102.5 169.8 102.8 169 102.9 168.2 103.1 167.5 103.2 166.8 103.3 166 103.4 165.2 103.5 164.5 103.7 163.8 103.8 163 104 162.2 104.2 161.5 104.3 160.8 104.4 160 104.5 159.2 104.6 158.5 104.7 157.8 104.8 157 104.9 156.2 105.1 155.5 105.2 154.8 105.2 154 105.3 153.2 105.4 152.5 105.4 151.8 105.5 151 105.5ZM77.2 122.6 76.5 122.6 75.8 122.4 75.2 122 74.7 121.2 74.6 120.5 75 119.9 75.8 119.6 76.5 119.6 77.2 119.9 77.9 120.5 78.2 121.2 78.1 122 77.5 122.5ZM96.8 139 96 139 95.2 138.9 94.5 138.9 93.8 138.8 93 138.8 92.2 138.7 91.5 138.6 90.8 138.3 90 137.8 89.3 137.2 88.8 136.8 88.2 136 87.8 135.4 87.3 134.8 86.9 134 86.5 133.3 86.1 132.5 85.8 131.8 85.5 131.1 85.1 130.2 84.8 129.6 84.2 128.8 83.8 128 83.4 127.2 83 126.5 82.9 125.8 83 125 83.8 124.4 84.5 124.1 85.2 123.9 86 123.8 86.8 123.7 87.5 123.6 88.2 123.5 89 123.5 89.8 123.4 90.5 123.5 91.2 123.5 92 123.7 92.8 123.8 93.5 123.9 94.2 124.1 95 124.4 95.8 124.6 96.5 124.8 97.2 124.9 98 125 98.8 125.1 99.5 125.3 100.2 125.6 101 125.9 101.8 126.4 102.4 127 103 127.7 103.4 128.2 104 129 104.4 129.8 104.9 130.5 105.4 131.2 105.9 132 106.4 132.8 106.7 133.5 106.9 134.2 106.9 135 106.8 135.7 106.3 136.5 105.8 137 105 137.4 104.2 137.6 103.5 137.7 102.8 137.8 102 137.8 101.2 137.9 100.5 138.1 99.8 138.3 99 138.5 98.3 138.8 97.5 138.9 96.8 139ZM151.2 105.3 150.5 105.3 149.8 105.4 149 105.4 148.2 105.5 147.5 105.5 146.8 105.5 146 105.5 145.2 105.5 144.5 105.4 143.8 105.3 143 105.2 142.2 105.1 141.5 105 140.8 104.9 140 104.8 139.2 104.8 138.5 104.7 137.8 104.6 137 104.6 136.2 104.5 135.5 104.4 134.8 104.3 134 104.2 133.2 104.2 132.5 104.1 131.8 104 131 103.9 130.2 103.7 129.5 103.5 128.8 103.4 128 103.2 127.2 103 126.5 102.9 125.8 102.8 125 102.7 124.2 102.5 123.5 102.4 122.8 102.2 122 101.9 121.2 101.6 120.5 101.2 119.8 100.9 119.1 100.5 118.2 100.1 117.6 99.8 116.8 99.3 116 99.1 115.2 98.8 114.5 98.3 114 97.5 113.9 96.8 114.5 96.1 115.2 95.9 116 96 116.8 96.1 117.5 96 118.2 95.7 119 95.4 119.8 95 120.5 94.7 121.2 94.4 122 94.2 122.8 93.9 123.5 93.7 124.2 93.5 125 93.3 125.8 93.2 126.5 93.1 127.2 92.9 128 92.8 128.8 92.7 129.5 92.6 130.2 92.5 131 92.3 131.8 92.2 132.5 92 133.2 91.9 134 91.8 134.8 91.7 135.5 91.6 136.2 91.6 137 91.5 137.8 91.5 138.5 91.5 139.2 91.4 140 91.3 140.8 91.3 141.5 91.2 142.2 91.1 143 91.1 143.7 91 144.5 90.9 145.2 90.9 146 90.8 146.8 90.8 147.5 90.8 148.2 90.8 149 90.9 149.8 91 150.5 91 151.2 91.1 152 91.1 152.8 91.1 153.5 91.2 154.2 91.2 155 91.3 155.8 91.4 156.5 91.5 157.2 91.6 158 91.7 158.8 91.8 159.5 91.9 160.2 92 161 92.1 161.8 92.2 162.5 92.2 163.2 92.3 164 92.5 164.8 92.6 165.5 92.8 166.2 92.9 167 93.1 167.8 93.2 168.5 93.4 169.2 93.5 170 93.6 170.8 93.8 171.5 94 172.2 94.2 173 94.5 173.8 94.8 174.5 95.2 175.1 95.5 175.8 95.9 176.4 96.5 176.8 97.2 177 98 176.9 98.8 176.5 99.4 175.9 100 175 100.4 174.2 100.7 173.5 100.9 172.8 101.1 172 101.4 171.2 101.6 170.5 101.9 169.8 102.2 169 102.5 168.2 102.6 167.5 102.8 166.8 102.9 166 103.1 165.2 103.2 164.5 103.4 163.8 103.5 163 103.7 162.2 103.9 161.5 104 160.8 104.1 160 104.2 159.2 104.3 158.5 104.4 157.8 104.5 157 104.6 156.2 104.8 155.5 104.9 154.8 105 154 105 153.2 105.1 152.5 105.2 151.8 105.2ZM97.8 138 97 138.1 96.2 138.2 95.5 138.1 94.8 138 94 137.9 93.2 137.8 92.5 137.7 91.8 137.4 91 137.1 90.2 136.6 89.5 136 89 135.5 88.5 134.9 88 134.3 87.5 133.5 87.1 132.8 86.8 132 86.4 131.2 86.2 130.5 85.8 129.8 85.5 129.1 85 128.2 84.7 127.5 84.4 126.8 84.4 126 84.8 125.3 85.5 124.9 86.2 124.7 87 124.6 87.8 124.5 88.5 124.4 89.2 124.3 90 124.3 90.8 124.4 91.5 124.5 92.2 124.6 93 124.8 93.8 125 94.5 125.2 95.2 125.4 96 125.6 96.8 125.7 97.5 125.8 98.2 125.9 99 125.9 99.8 126.1 100.5 126.5 101.2 127 101.8 127.6 102.2 128.2 102.6 129 103 129.8 103.4 130.5 103.7 131.2 104 132 104.2 132.8 104.3 133.5 104.3 134.2 104.2 135 103.8 135.6 103.1 136 102.4 136.2 101.6 136.5 100.9 136.8 100 137.1 99.2 137.4 98.5 137.8 97.8 138ZM148 105.3 147.2 105.2 146.5 105.2 145.8 105.2 145 105.2 144.2 105.1 143.5 105 142.8 104.9 142 104.8 141.2 104.7 140.5 104.6 139.8 104.6 139 104.5 138.2 104.4 137.5 104.3 136.8 104.2 136 104.1 135.2 104 134.5 103.9 133.8 103.8 133 103.8 132.2 103.7 131.5 103.5 130.8 103.4 130 103.2 129.2 103.1 128.5 102.9 127.8 102.8 127 102.6 126.2 102.4 125.5 102.3 124.8 102.1 124 101.9 123.2 101.7 122.5 101.4 121.8 101.1 121.1 100.8 120.3 100.2 119.6 99.8 119.1 99.2 118.6 98.5 118.6 97.8 118.7 97 119.2 96.2 119.8 95.8 120.5 95.4 121.2 95 122 94.7 122.8 94.4 123.5 94.1 124.2 93.9 125 93.7 125.8 93.6 126.5 93.4 127.2 93.3 128 93.1 128.8 93 129.5 92.9 130.2 92.8 131 92.6 131.8 92.5 132.5 92.4 133.2 92.2 134 92.1 134.8 92 135.5 91.9 136.2 91.9 137 91.8 137.8 91.8 138.5 91.7 139.2 91.6 140 91.6 140.8 91.5 141.5 91.4 142.2 91.4 143 91.3 143.8 91.2 144.5 91.2 145.2 91.1 146 91.1 146.8 91 147.5 91 148.2 91 149 91.1 149.8 91.1 150.5 91.2 151.2 91.2 152 91.3 152.8 91.3 153.5 91.4 154.2 91.5 155 91.5 155.8 91.6 156.5 91.7 157.2 91.8 158 91.9 158.8 92 159.5 92.1 160.2 92.2 161 92.3 161.8 92.4 162.5 92.5 163.2 92.6 164 92.8 164.8 92.9 165.5 93.1 166.2 93.2 167 93.4 167.8 93.6 168.5 93.8 169.2 94 170 94.2 170.8 94.4 171.5 94.7 172.2 95 173 95.4 173.8 95.9 174.4 96.5 174.7 97.2 174.8 98 174.7 98.8 174 99.5 173.2 100 172.5 100.4 171.8 100.7 171 101.1 170.2 101.4 169.5 101.7 168.8 102 168 102.2 167.2 102.4 166.5 102.6 165.8 102.8 165 102.9 164.2 103.1 163.5 103.3 162.8 103.4 162 103.6 161.2 103.7 160.5 103.8 159.8 103.9 159 104 158.2 104.2 157.5 104.3 156.8 104.4 156 104.5 155.2 104.6 154.5 104.7 153.8 104.8 153 104.9 152.2 104.9 151.5 105 150.8 105.1 150 105.1 149.2 105.2 148.5 105.2ZM97.2 136.8 96.5 137 95.8 137 95 137 94.2 136.9 93.5 136.8 92.8 136.6 92 136.4 91.2 136.1 90.5 135.6 89.8 135 89.2 134.4 88.8 133.8 88.3 133 87.9 132.2 87.6 131.5 87.4 130.8 87.1 130 86.9 129.2 86.6 128.5 86.4 127.8 86.4 127 86.8 126.3 87.5 125.9 88.2 125.7 89 125.6 89.8 125.5 90.5 125.5 91.2 125.5 92 125.6 92.8 125.7 93.5 125.9 94.2 126 95 126.2 95.8 126.5 96.5 126.7 97.2 126.9 98 127 98.8 127.1 99.5 127.4 100.2 127.9 100.7 128.5 101.1 129.2 101.5 130 101.8 130.8 102.1 131.5 102.1 132.2 102 133 101.8 133.7 101.2 134.4 100.5 135 99.8 135.5 99 136 98.2 136.4 97.5 136.7ZM148.5 105 147.8 105 147 105 146.2 104.9 145.5 104.9 144.8 104.8 144 104.8 143.2 104.7 142.5 104.6 141.8 104.5 141 104.4 140.2 104.3 139.5 104.3 138.8 104.2 138 104.1 137.2 104 136.5 103.9 135.8 103.8 135 103.7 134.2 103.6 133.5 103.4 132.8 103.3 132 103.2 131.2 103.1 130.5 102.9 129.8 102.8 129 102.6 128.2 102.4 127.5 102.2 126.8 102.1 126 101.9 125.2 101.6 124.5 101.4 123.8 101.1 123 100.8 122.4 100.5 121.8 100.1 121 99.6 120.5 99 120.2 98.3 120.2 97.5 120.4 96.8 120.9 96 121.7 95.5 122.5 95.1 123.2 94.8 124 94.5 124.8 94.3 125.5 94.1 126.2 93.9 127 93.7 127.8 93.6 128.5 93.4 129.2 93.3 130 93.1 130.8 93 131.5 92.9 132.2 92.8 133 92.6 133.8 92.5 134.5 92.4 135.2 92.3 136 92.2 136.8 92.2 137.5 92.1 138.2 92 139 91.9 139.8 91.8 140.5 91.8 141.2 91.7 142 91.6 142.8 91.6 143.5 91.5 144.2 91.4 145 91.4 145.8 91.3 146.5 91.3 147.2 91.2 148 91.2 148.8 91.2 149.5 91.3 150.2 91.4 151 91.4 151.8 91.5 152.5 91.5 153.2 91.6 154 91.7 154.8 91.8 155.5 91.9 156.2 91.9 157 92 157.8 92.1 158.5 92.2 159.2 92.3 160 92.5 160.8 92.6 161.5 92.7 162.2 92.8 163 92.9 163.8 93.1 164.5 93.2 165.2 93.4 166 93.6 166.7 93.8 167.5 94 168.2 94.2 169 94.4 169.8 94.7 170.5 95 171.2 95.4 172 96 172.5 96.7 172.7 97.5 172.6 98.2 172.4 99 171.8 99.7 171.1 100.2 170.5 100.6 169.8 101 169 101.3 168.2 101.6 167.5 101.9 166.8 102.1 166 102.3 165.3 102.5 164.5 102.7 163.8 102.9 163 103 162.2 103.2 161.5 103.3 160.8 103.5 160 103.6 159.2 103.7 158.5 103.8 157.8 104 157 104.1 156.2 104.2 155.5 104.3 154.8 104.4 154 104.5 153.2 104.6 152.5 104.6 151.8 104.7 151 104.8 150.2 104.9 149.5 104.9 148.8 105ZM95.8 135.5 95 135.6 94.2 135.7 93.5 135.6 92.8 135.5 92 135.3 91.2 134.9 90.5 134.2 90 133.7 89.6 133 89.2 132.3 89 131.7 88.8 130.8 88.6 130 88.4 129.2 88.5 128.5 88.8 127.8 89.4 127.2 90.2 126.9 91 126.8 91.8 126.7 92.5 126.7 93.2 126.8 94 126.9 94.8 127.1 95.5 127.4 96.2 127.7 96.9 128 97.8 128.5 98.4 129 98.9 129.5 99.5 130.2 99.8 131 99.9 131.8 99.8 132.5 99.4 133.2 98.8 134 98.1 134.5 97.5 134.9 96.8 135.2 96 135.5ZM148.5 104.8 147.8 104.8 147 104.7 146.2 104.7 145.5 104.6 144.8 104.5 144 104.5 143.2 104.4 142.5 104.3 141.8 104.2 141 104.1 140.2 104.1 139.5 104 138.8 103.9 138 103.8 137.2 103.7 136.5 103.5 135.8 103.4 135 103.3 134.2 103.2 133.5 103.1 132.8 102.9 132 102.8 131.2 102.6 130.5 102.5 129.8 102.3 129 102.1 128.2 101.9 127.5 101.7 126.8 101.5 126 101.2 125.2 100.9 124.5 100.6 123.9 100.2 123.2 99.8 122.6 99.2 122.2 98.6 122.1 97.8 122.2 97 122.5 96.4 123.2 95.8 124 95.3 124.8 94.9 125.5 94.7 126.2 94.4 127 94.2 127.8 94 128.5 93.8 129.2 93.7 130 93.5 130.8 93.4 131.5 93.2 132.2 93.1 132.9 93 133.8 92.9 134.5 92.8 135.2 92.7 136 92.6 136.8 92.5 137.5 92.4 138.2 92.3 139 92.2 139.8 92.1 140.5 92 141.2 91.9 142 91.9 142.8 91.8 143.5 91.7 144.2 91.7 145 91.6 145.8 91.6 146.5 91.5 147.2 91.5 148 91.4 148.8 91.5 149.5 91.5 150.2 91.6 151 91.6 151.8 91.7 152.5 91.8 153.2 91.9 154 91.9 154.8 92 155.5 92.1 156.2 92.2 157 92.3 157.8 92.4 158.5 92.5 159.2 92.6 160 92.8 160.8 92.9 161.5 93 162.2 93.2 163 93.3 163.8 93.5 164.5 93.7 165.2 93.8 166 94 166.7 94.2 167.5 94.5 168.1 94.8 169 95.2 169.6 95.5 170.2 96 170.8 96.7 170.9 97.5 170.9 98.2 170.6 99 170 99.8 169.4 100.2 168.8 100.6 168 101 167.2 101.3 166.5 101.6 165.8 101.8 165 102.1 164.2 102.3 163.5 102.5 162.8 102.7 162 102.8 161.2 103 160.5 103.1 159.8 103.3 159 103.4 158.2 103.5 157.5 103.7 156.8 103.8 156 103.9 155.3 104 154.5 104.1 153.8 104.2 153 104.3 152.2 104.4 151.5 104.5 150.8 104.6 150 104.6 149.2 104.7 148.5 104.8ZM95 133.8 94.2 133.9 93.5 133.9 92.8 133.7 92 133.3 91.4 132.8 90.9 132 90.6 131.2 90.4 130.5 90.4 129.8 90.7 129 91.4 128.5 92.1 128.2 93 128.2 93.8 128.3 94.5 128.5 95.2 128.8 96 129.2 96.7 129.8 97.2 130.5 97.4 131.2 97.3 132 96.8 132.8 96.2 133.2 95.5 133.6ZM148 104.5 147.2 104.5 146.5 104.4 145.8 104.3 145 104.3 144.2 104.2 143.5 104.1 142.8 104 142 104 141.2 103.9 140.5 103.8 139.8 103.7 139 103.6 138.2 103.5 137.5 103.3 136.8 103.2 136 103.1 135.2 103 134.5 102.8 133.8 102.7 133 102.5 132.2 102.4 131.5 102.2 130.8 102 130 101.8 129.2 101.6 128.5 101.4 127.8 101.1 127 100.8 126.3 100.5 125.5 100 124.8 99.5 124.3 98.8 124.1 98 124.1 97.2 124.4 96.5 125 95.9 125.8 95.4 126.5 95 127.2 94.8 128 94.5 128.8 94.3 129.5 94.1 130.2 93.9 131 93.8 131.8 93.6 132.5 93.5 133.2 93.3 134 93.2 134.8 93.1 135.5 92.9 136.2 92.8 137 92.7 137.8 92.6 138.5 92.5 139.2 92.4 140 92.4 140.8 92.3 141.5 92.2 142.2 92.1 143 92 143.8 92 144.5 91.9 145.2 91.8 146 91.8 146.8 91.7 147.5 91.7 148.2 91.7 149 91.7 149.8 91.8 150.5 91.8 151.2 91.9 152 92 152.8 92.1 153.5 92.2 154.2 92.2 155 92.3 155.8 92.4 156.5 92.5 157.2 92.7 158 92.8 158.8 92.9 159.5 93 160.2 93.2 161 93.3 161.8 93.5 162.5 93.6 163.2 93.8 164 94 164.8 94.2 165.5 94.5 166.2 94.7 166.9 95 167.8 95.5 168.5 96 169 96.7 169.2 97.5 169.1 98.2 168.8 99 168.2 99.7 167.6 100.2 166.8 100.7 166 101.1 165.2 101.4 164.5 101.6 163.8 101.9 163 102.1 162.2 102.3 161.5 102.5 160.8 102.7 160 102.8 159.2 103 158.5 103.1 157.8 103.3 157 103.4 156.2 103.5 155.5 103.6 154.8 103.8 154 103.9 153.2 104 152.5 104.1 151.8 104.2 151 104.2 150.2 104.3 149.5 104.4 148.8 104.5 148 104.5ZM150.2 104 149.5 104.1 148.8 104.2 148 104.2 147.2 104.2 146.5 104.1 145.8 104.1 145 104 144.2 103.9 143.5 103.8 142.8 103.7 142 103.6 141.2 103.5 140.5 103.4 139.8 103.3 139 103.2 138.2 103.1 137.5 103 136.8 102.8 136 102.7 135.2 102.5 134.5 102.4 133.8 102.2 133 102 132.2 101.8 131.5 101.6 130.8 101.4 130 101.2 129.2 100.9 128.5 100.6 127.8 100.2 127.1 99.8 126.6 99.2 126.2 98.5 126 97.8 126.1 97 126.5 96.3 127.2 95.8 128 95.3 128.7 95 129.3 94.8 130.1 94.5 131 94.3 131.8 94.1 132.5 93.9 133.2 93.7 134 93.6 134.8 93.4 135.5 93.3 136.2 93.2 137 93.1 137.8 93 138.5 92.8 139.2 92.8 140 92.7 140.8 92.6 141.5 92.5 142.2 92.4 143 92.3 143.8 92.2 144.5 92.2 145.2 92.1 146 92 146.8 92 147.5 91.9 148.2 91.9 149 92 149.8 92 150.5 92.1 151.2 92.2 152 92.3 152.8 92.3 153.5 92.4 154.2 92.5 155 92.6 155.7 92.8 156.5 92.9 157.2 93 158 93.1 158.7 93.2 159.5 93.4 160.2 93.6 161 93.7 161.8 93.9 162.5 94.1 163.2 94.3 164 94.6 164.8 94.9 165.5 95.2 166.2 95.6 166.9 96.2 167.3 97 167.4 97.8 167.3 98.5 166.9 99.2 166.2 99.9 165.5 100.4 164.9 100.8 164 101.1 163.2 101.4 162.5 101.7 161.8 101.9 161 102.1 160.2 102.3 159.5 102.5 158.8 102.7 158 102.8 157.2 103 156.5 103.1 155.8 103.2 155 103.4 154.2 103.5 153.5 103.6 152.8 103.7 152 103.8 151.2 103.9 150.5 104ZM149.8 103.8 149 103.8 148.2 103.9 147.5 103.9 146.8 103.8 146 103.8 145.2 103.7 144.5 103.6 143.8 103.5 143 103.4 142.2 103.3 141.5 103.2 140.8 103.1 140 103 139.2 102.9 138.5 102.7 137.8 102.6 137 102.4 136.2 102.3 135.5 102.1 134.8 101.9 134 101.8 133.2 101.5 132.5 101.3 131.8 101 131 100.8 130.2 100.4 129.5 100 128.9 99.5 128.3 98.8 128.1 98 128.1 97.2 128.4 96.5 129 95.9 129.6 95.5 130.2 95.2 131 94.9 131.8 94.6 132.5 94.4 133.2 94.2 134 94 134.8 93.9 135.5 93.7 136.2 93.6 137 93.4 137.8 93.3 138.5 93.2 139.2 93.1 140 93 140.8 92.9 141.5 92.8 142.2 92.7 143 92.6 143.8 92.5 144.5 92.4 145.2 92.4 146 92.3 146.8 92.2 147.5 92.2 148.2 92.2 149 92.2 149.8 92.3 150.5 92.4 151.2 92.5 152 92.6 152.8 92.6 153.5 92.7 154.2 92.9 155 93 155.8 93.1 156.5 93.2 157.2 93.4 158 93.5 158.8 93.7 159.5 93.8 160.2 94 161 94.2 161.8 94.4 162.5 94.7 163.2 95 164 95.4 164.8 95.9 165.2 96.4 165.6 97.2 165.6 98 165.4 98.8 165 99.3 164.3 100 163.5 100.5 162.8 100.9 162 101.2 161.2 101.5 160.5 101.7 159.8 101.9 159 102.1 158.2 102.3 157.5 102.5 156.8 102.6 156 102.8 155.2 102.9 154.5 103.1 153.8 103.2 153 103.3 152.2 103.4 151.5 103.5 150.8 103.6 150 103.7ZM148.8 103.5 148 103.6 147.2 103.6 146.5 103.5 145.8 103.4 145 103.4 144.2 103.3 143.5 103.2 142.8 103 142 102.9 141.2 102.8 140.5 102.6 139.8 102.5 139 102.4 138.2 102.2 137.5 102 136.8 101.9 136 101.6 135.2 101.4 134.5 101.2 133.8 101 133.1 100.8 132.2 100.4 131.5 100 130.8 99.5 130.3 98.8 130.1 98 130.1 97.2 130.4 96.5 131 95.9 131.8 95.4 132.5 95 133.2 94.8 134 94.5 134.8 94.3 135.5 94.1 136.2 94 137 93.8 137.8 93.7 138.5 93.6 139.2 93.5 140 93.4 140.8 93.3 141.5 93.2 142.2 93 143 92.9 143.8 92.8 144.5 92.7 145.2 92.7 146 92.6 146.8 92.6 147.5 92.5 148.2 92.5 149 92.6 149.8 92.7 150.5 92.8 151.2 92.9 152 92.9 152.7 93 153.5 93.1 154.2 93.2 155 93.3 155.8 93.5 156.5 93.6 157.2 93.8 158 93.9 158.8 94.1 159.5 94.3 160.2 94.6 161 94.9 161.8 95.2 162.5 95.5 163.2 96 163.8 96.6 164 97.5 163.9 98.2 163.6 99 163 99.6 162.2 100.2 161.5 100.6 160.8 100.9 160 101.1 159.2 101.4 158.5 101.5 157.8 101.7 157 101.9 156.2 102.1 155.5 102.3 154.8 102.5 154 102.7 153.2 102.8 152.5 103 151.8 103.1 151 103.2 150.2 103.3 149.5 103.4 148.8 103.5ZM149.5 103 148.8 103.1 148 103.2 147.2 103.2 146.5 103.2 145.8 103.1 145 103.1 144.2 103 143.5 102.8 142.8 102.7 142 102.5 141.2 102.3 140.5 102.2 139.8 102 139 101.9 138.2 101.7 137.5 101.5 136.8 101.2 136 100.9 135.2 100.7 134.5 100.4 133.8 100.1 133 99.8 132.3 99.2 131.8 98.5 131.6 97.8 131.7 97 132 96.4 132.5 95.9 133.2 95.4 134 95 134.7 94.8 135.5 94.5 136.2 94.4 137 94.3 137.8 94.2 138.5 94.2 139.2 94.1 140 94 140.8 93.9 141.5 93.7 142.2 93.5 143 93.3 143.8 93.2 144.5 93.1 145.2 93 146 92.9 146.8 92.9 147.5 92.9 148.2 93 149 93.2 149.8 93.4 150.5 93.4 151.2 93.4 152 93.4 152.8 93.4 153.5 93.5 154.2 93.6 155 93.8 155.8 93.9 156.5 94.1 157.2 94.2 158 94.4 158.8 94.7 159.5 95 160.2 95.4 160.9 95.8 161.5 96.2 162 97 162.1 97.8 162 98.5 161.6 99.2 161 99.7 160.2 100.1 159.5 100.4 158.8 100.5 158 100.7 157.2 100.8 156.5 101.1 155.8 101.3 155 101.6 154.2 101.8 153.5 102.1 152.8 102.3 152 102.5 151.2 102.7 150.5 102.9 149.8 103ZM148.8 102.8 148 102.9 147.2 102.9 146.5 102.9 145.8 102.8 145 102.8 144.2 102.6 143.5 102.4 142.8 102.2 142 102 141.2 101.8 140.5 101.7 139.8 101.5 139 101.4 138.2 101.1 137.5 100.8 136.8 100.5 136 100.1 135.2 99.8 134.6 99.5 134 99.2 133.3 98.5 133 97.8 133 97 133.4 96.2 134 95.8 134.8 95.4 135.5 95.1 136.2 95 137 94.9 137.8 95 138.5 95.1 139.2 95 140 94.9 140.8 94.6 141.5 94.3 142.2 94 143 93.8 143.8 93.6 144.5 93.5 145.2 93.4 146 93.4 146.8 93.4 147.5 93.6 148.2 93.8 149 94 149.8 94.1 150.5 94.1 151.2 94 152 94 152.8 94 153.5 94.1 154.2 94.2 155 94.3 155.8 94.5 156.5 94.7 157.2 94.9 158 95.1 158.7 95.5 159.4 96 159.9 96.8 160.1 97.5 160.1 98.2 159.6 99 158.8 99.3 158 99.4 157.2 99.5 156.5 99.6 155.8 99.8 155 100.1 154.2 100.4 153.5 100.7 152.8 101.2 152 101.7 151.2 102.1 150.5 102.4 149.8 102.6 149 102.7ZM149 102.5 148.2 102.7 147.5 102.7 146.8 102.7 146 102.7 145.2 102.6 144.5 102.5 143.8 102.3 143 102 142.2 101.8 141.5 101.6 140.8 101.4 140 101.3 139.2 101.1 138.5 100.9 137.8 100.6 137.1 100.2 136.5 99.9 135.8 99.5 135 99 134.3 98.5 133.9 97.8 133.8 97 134.2 96.2 135 95.8 135.8 95.5 136.5 95.5 137.2 95.6 138 95.7 138.8 95.7 139.5 95.5 140.2 95.3 141 94.9 141.8 94.6 142.5 94.2 143.2 94 144 93.8 144.8 93.7 145.5 93.6 146.2 93.7 147 93.8 147.8 93.9 148.5 94.1 149.2 94.3 150 94.4 150.8 94.4 151.5 94.4 152.2 94.4 153 94.4 153.7 94.5 154.5 94.7 155.2 94.8 156 95 156.8 95.2 157.5 95.5 158.2 95.9 158.8 96.5 159 97.2 158.8 97.9 158 98.3 157.2 98.3 156.5 98.4 155.8 99 155 99.5 154.2 99.9 153.5 100.3 152.8 100.7 152 101.2 151.2 101.7 150.5 102.1 149.8 102.3 149.1 102.5ZM148 102.5 147.2 102.5 146.5 102.5 145.8 102.5 145 102.4 144.2 102.2 143.5 101.9 142.8 101.6 142 101.4 141.2 101.2 140.5 101.1 139.8 100.9 139.1 100.8 138.2 100.4 137.5 100 136.9 99.5 136.3 99 135.8 98.3 135.4 97.5 135.4 96.8 136.2 96.6 137 96.8 137.7 96.8 138.5 96.5 139.2 96.2 140 95.8 140.6 95.5 141.5 95.1 142.2 94.8 143 94.4 143.8 94.1 144.5 94 145.2 93.9 146 94 146.8 94.1 147.5 94.2 148.2 94.3 149 94.5 149.8 94.6 150.5 94.6 151.2 94.7 152 94.7 152.8 94.8 153.5 95 154.2 95.2 155 95.6 155.8 96.1 156 96.9 155.6 97.8 155.2 98.4 154.8 99 154 99.5 153.2 100 152.5 100.5 151.8 101 151 101.5 150.2 101.9 149.5 102.2 148.8 102.4 148 102.5ZM148.2 102.3 147.5 102.3 146.8 102.3 146 102.3 145.2 102.2 144.5 102 143.8 101.8 143 101.4 142.2 101 141.5 100.9 140.8 100.8 140 100.7 139.2 100.5 138.5 100.1 137.8 99.5 137.3 98.8 137.6 98 138.2 97.5 138.8 97 139.5 96.5 140.2 96.1 140.9 95.8 141.8 95.3 142.5 94.9 143.2 94.6 144 94.4 144.8 94.3 145.5 94.2 146.2 94.3 147 94.4 147.8 94.5 148.5 94.7 149.2 94.8 150 94.9 150.8 94.9 151.5 95 152.2 95.1 153 95.3 153.8 95.7 154.5 96.2 154.8 97 154.7 97.8 154.3 98.5 153.8 99.1 153 99.7 152.2 100.2 151.5 100.8 150.8 101.2 150 101.7 149.2 102 148.5 102.2ZM148.2 102 147.5 102.1 146.8 102.1 146 102.1 145.2 102 144.5 101.8 143.8 101.3 143 100.8 142.2 100.6 141.5 100.5 140.8 100.4 140 100.3 139.2 100.1 138.5 99.5 138.2 98.8 138.5 98.1 139 97.6 139.7 97 140.2 96.6 141 96.1 141.7 95.8 142.5 95.3 143.2 94.9 144 94.7 144.8 94.6 145.5 94.6 146.2 94.7 147 94.8 147.8 94.9 148.5 95 149.2 95.2 150 95.2 150.8 95.2 151.5 95.3 152.2 95.5 153 95.8 153.7 96.5 153.9 97.2 153.8 98 153.3 98.8 152.8 99.2 152.2 99.7 151.6 100.2 151 100.7 150.3 101.2 149.5 101.6 148.8 101.9ZM148.2 101.8 147.5 101.9 146.8 101.9 146 101.8 145.2 101.7 144.5 101.3 143.8 100.8 143.2 100.3 142.5 100.1 141.8 100 141 100 140.2 99.9 139.5 99.6 139 99.1 139.2 98.2 139.8 97.6 140.5 97 141.2 96.5 142 96 142.8 95.6 143.5 95.2 144.2 95 145 94.9 145.8 95 146.5 95.1 147.2 95.2 148 95.3 148.8 95.5 149.5 95.6 150.2 95.6 151 95.7 151.8 95.8 152.5 96.2 153 96.7 153.2 97.5 152.9 98.2 152.5 98.9 152 99.4 151.3 100 150.8 100.5 150.1 101 149.2 101.4 148.5 101.7ZM148.2 101.5 147.5 101.6 146.8 101.6 146 101.4 145.2 101.1 144.5 100.5 144 100 143.3 99.5 142.5 99.3 141.8 99.3 141 99.3 140.2 99.1 140.2 98.2 140.8 97.7 141.5 97 142.2 96.5 143 96 143.8 95.6 144.5 95.4 145.2 95.4 146 95.6 146.7 95.8 147.5 95.9 148.2 96 149 96.2 149.8 96.2 150.5 96.1 151.2 96.2 152 96.6 152.4 97.2 152.3 98 151.9 98.8 151.2 99.4 150.8 100 150.2 100.5 149.5 101 148.8 101.3ZM148 101.3 147.2 101.2 146.5 101.1 145.8 100.8 145.3 100.2 144.8 99.5 144.2 98.8 143.6 98.2 143 97.8 143.1 97 143.6 96.5 144.2 96.2 145 96.1 145.8 96.3 146.5 96.7 147.2 96.9 148 96.8 148.8 97.1 149.5 97.1 150.2 97 151 97.1 151.4 97.8 151.2 98.5 150.8 99.1 150.3 99.8 149.8 100.3 149.1 100.8 148.5 101.1ZM148 100.8 147.2 100.7 146.5 100.3 146.1 99.5 146.2 98.8 147 98.3 147.8 98.1 148.5 98.2 149.2 98.4 149.7 99 149.4 99.8 148.8 100.4 148 100.8ZM148 100 148 99.3 148 100Z"/>
</g>
<g fill="none" stroke="#000" stroke-width="1.4">
<ellipse cx="74.6" cy="88.6" rx="20.4" ry="37.3" transform="rotate(4 74.6 88.6)"/>
<ellipse cx="157.2" cy="94.2" rx="59.3" ry="17.4" transform="rotate(1 157.2 94.2)"/>
<ellipse cx="154" cy="122" rx="37" ry="10.4"/>
<ellipse cx="101" cy="133.5" rx="16.5" ry="18.5"/>
</g>
<rect x="328.3" y="22.4" width="185.3" height="166.8" fill="#d3d3d3"/>
<line x1="328.3" x2="513.6" y1="55.7" y2="55.7" stroke="#5c5c5c" stroke-width="1.25"/>
<line x1="328.3" x2="513.6" y1="89.1" y2="89.1" stroke="#5c5c5c" stroke-width="1.25"/>
<line x1="328.3" x2="513.6" y1="122.5" y2="122.5" stroke="#5c5c5c" stroke-width="1.25"/>
<line x1="328.3" x2="513.6" y1="155.9" y2="155.9" stroke="#5c5c5c" stroke-width="1.25"/>
<line x1="328.3" x2="514.1" y1="22.4" y2="22.4" stroke="#5a5a5a" stroke-width="1.4"/>
<line x1="513.4" x2="513.4" y1="22.4" y2="189.2" stroke="#a4a4a4" stroke-width="1.6"/>
<line x1="328.3" x2="328.3" y1="22.4" y2="189.2" stroke="#9a9a9a" stroke-width="1"/>
<line x1="328.3" x2="513.6" y1="189.2" y2="189.2" stroke="#8a8a8a" stroke-width="1.2"/>
<text x="321" y="59.9" font-size="10.6" text-anchor="end" font-weight="normal" stroke="#000" stroke-width="0.35" >2</text>
<text x="321" y="93.3" font-size="10.6" text-anchor="end" font-weight="normal" stroke="#000" stroke-width="0.35" >1.5</text>
<text x="321" y="126.7" font-size="10.6" text-anchor="end" font-weight="normal" stroke="#000" stroke-width="0.35" >1</text>
<text x="321" y="160.1" font-size="10.6" text-anchor="end" font-weight="normal" stroke="#000" stroke-width="0.35" >0.5</text>
<text x="374.9" y="207" font-size="10.6" text-anchor="middle" font-weight="normal" stroke="#000" stroke-width="0.35" >5</text>
<text x="421" y="207" font-size="10.6" text-anchor="middle" font-weight="normal" stroke="#000" stroke-width="0.35" >10</text>
<text x="467.1" y="207" font-size="10.6" text-anchor="middle" font-weight="normal" stroke="#000" stroke-width="0.35" >15</text>
<path d="M356.46 141.3V162.8M354.86 141.3H358.06M354.86 162.8H358.06" stroke="#333" stroke-width="0.9" fill="none"/>
<path d="M393.34 144.6V165.6M391.74 144.6H394.94M391.74 165.6H394.94" stroke="#333" stroke-width="0.9" fill="none"/>
<path d="M430.22 149.8V161M428.62 149.8H431.82M428.62 161H431.82" stroke="#333" stroke-width="0.9" fill="none"/>
<path d="M467.1 128.3V156M465.5 128.3H468.7M465.5 156H468.7" stroke="#333" stroke-width="0.9" fill="none"/>
<polyline points="328.8,58 356.46,183 393.34,180 430.22,184.4 467.1,186.9" fill="none" stroke="#000" stroke-width="2.6" stroke-dasharray="5.5 3.5"/>
<polyline points="328.8,55.7 356.46,152.6 393.34,155 430.22,155.6 467.1,142.5" fill="none" stroke="#000" stroke-width="2"/>
<circle cx="328.8" cy="58" r="3.8" fill="#000"/>
<circle cx="356.46" cy="183" r="3.8" fill="#000"/>
<circle cx="393.34" cy="180" r="3.8" fill="#000"/>
<circle cx="430.22" cy="184.4" r="3.8" fill="#000"/>
<circle cx="467.1" cy="186.9" r="3.8" fill="#000"/>
<path d="M328.8 52.6 L332.5 58.8 L325.1 58.8Z" fill="#000"/>
<path d="M356.46 149.5 L360.16 155.7 L352.76 155.7Z" fill="#000"/>
<path d="M393.34 151.9 L397.04 158.1 L389.64 158.1Z" fill="#000"/>
<path d="M430.22 152.5 L433.92 158.7 L426.52 158.7Z" fill="#000"/>
<path d="M467.1 139.4 L470.8 145.6 L463.4 145.6Z" fill="#000"/>
<line x1="298.5" x2="298.5" y1="7.5" y2="187.7" stroke="#000" stroke-width="2.6"/>
<line x1="320.3" x2="515" y1="215.8" y2="215.8" stroke="#000" stroke-width="2.6"/>
<text x="363.2" y="236.5" font-size="15.6" text-anchor="start" font-weight="normal" stroke="#000" stroke-width="0.45" textLength="106" lengthAdjust="spacingAndGlyphs">days in culture</text>
<text transform="translate(286.2 158.9) rotate(-90)" font-size="15.4" stroke="#000" stroke-width="0.45" textLength="130.6" lengthAdjust="spacingAndGlyphs">cell number (x10<tspan font-size="8.6" dy="-5.6">8</tspan><tspan dy="5.6">)</tspan></text>
<rect x="58.2" y="321.7" width="126.3" height="113.6" fill="#d3d3d3"/>
<line x1="58.2" x2="184.5" y1="350.1" y2="350.1" stroke="#747474" stroke-width="1.35"/>
<line x1="58.2" x2="184.5" y1="378.5" y2="378.5" stroke="#747474" stroke-width="1.35"/>
<line x1="58.2" x2="184.5" y1="406.9" y2="406.9" stroke="#747474" stroke-width="1.35"/>
<line x1="58.2" x2="185.0" y1="321.7" y2="321.7" stroke="#7a7a7a" stroke-width="1.4"/>
<line x1="184.5" x2="184.5" y1="321.7" y2="435.3" stroke="#9c9c9c" stroke-width="1.2"/>
<line x1="58.2" x2="58.2" y1="321.7" y2="435.3" stroke="#a0a0a0" stroke-width="0.8"/>
<line x1="56.2" x2="184.5" y1="435.6" y2="435.6" stroke="#c4c4c4" stroke-width="0.8"/>
<text x="50.8" y="325.8" font-size="10.9" text-anchor="end" font-weight="normal" stroke="#000" stroke-width="0.35" >2.4</text>
<text x="50.8" y="354.2" font-size="10.9" text-anchor="end" font-weight="normal" stroke="#000" stroke-width="0.35" >1.8</text>
<text x="50.8" y="382.6" font-size="10.9" text-anchor="end" font-weight="normal" stroke="#000" stroke-width="0.35" >1.2</text>
<text x="50.8" y="411" font-size="10.9" text-anchor="end" font-weight="normal" stroke="#000" stroke-width="0.35" >0.6</text>
<text x="89.78" y="449.8" font-size="10.6" text-anchor="middle" font-weight="normal" stroke="#000" stroke-width="0.35" >5</text>
<text x="121.35" y="449.8" font-size="10.6" text-anchor="middle" font-weight="normal" stroke="#000" stroke-width="0.35" >10</text>
<text x="152.93" y="449.8" font-size="10.6" text-anchor="middle" font-weight="normal" stroke="#000" stroke-width="0.35" >15</text>
<path d="M77.15 354.4V372.5M75.55 354.4H78.75M75.55 372.5H78.75" stroke="#333" stroke-width="0.9" fill="none"/>
<path d="M102.41 383.4V407.5M100.81 383.4H104M100.81 407.5H104" stroke="#333" stroke-width="0.9" fill="none"/>
<path d="M127.67 400.4V411M126.07 400.4H129.27M126.07 411H129.27" stroke="#333" stroke-width="0.9" fill="none"/>
<path d="M152.93 398.5V402.5M151.33 398.5H154.53M151.33 402.5H154.53" stroke="#333" stroke-width="0.9" fill="none"/>
<polyline points="58.2,335 77.15,429 102.41,431.8 127.67,434.3 152.93,434.7" fill="none" stroke="#000" stroke-width="2.1" stroke-dasharray="4 3"/>
<polyline points="58.2,327.5 77.15,364.7 102.41,395.5 127.67,406 152.93,400.4" fill="none" stroke="#000" stroke-width="2.2"/>
<circle cx="58.2" cy="335" r="2.9" fill="#000"/>
<circle cx="77.15" cy="429" r="2.9" fill="#000"/>
<circle cx="102.41" cy="431.8" r="2.9" fill="#000"/>
<circle cx="127.67" cy="434.3" r="2.9" fill="#000"/>
<circle cx="152.93" cy="434.7" r="2.9" fill="#000"/>
<path d="M58.2 324.5 L61.45 330.5 L54.95 330.5Z" fill="#000"/>
<path d="M77.15 361.7 L80.4 367.7 L73.9 367.7Z" fill="#000"/>
<path d="M102.41 392.5 L105.66 398.5 L99.16 398.5Z" fill="#000"/>
<path d="M127.67 403 L130.92 409 L124.42 409Z" fill="#000"/>
<path d="M152.93 397.4 L156.18 403.4 L149.68 403.4Z" fill="#000"/>
<rect x="224.8" y="321.5" width="126.3" height="113.9" fill="#d3d3d3"/>
<line x1="224.8" x2="351.1" y1="349.98" y2="349.98" stroke="#747474" stroke-width="1.35"/>
<line x1="224.8" x2="351.1" y1="378.45" y2="378.45" stroke="#747474" stroke-width="1.35"/>
<line x1="224.8" x2="351.1" y1="406.92" y2="406.92" stroke="#747474" stroke-width="1.35"/>
<line x1="224.8" x2="351.6" y1="321.5" y2="321.5" stroke="#7a7a7a" stroke-width="1.4"/>
<line x1="351.1" x2="351.1" y1="321.5" y2="435.4" stroke="#9c9c9c" stroke-width="1.2"/>
<line x1="224.8" x2="224.8" y1="321.5" y2="435.4" stroke="#a0a0a0" stroke-width="0.8"/>
<line x1="222.8" x2="351.1" y1="435.7" y2="435.7" stroke="#c4c4c4" stroke-width="0.8"/>
<text x="218.8" y="325.6" font-size="10.9" text-anchor="end" font-weight="normal" stroke="#000" stroke-width="0.35" >1.2</text>
<text x="218.8" y="354.08" font-size="10.9" text-anchor="end" font-weight="normal" stroke="#000" stroke-width="0.35" >0.9</text>
<text x="218.8" y="382.55" font-size="10.9" text-anchor="end" font-weight="normal" stroke="#000" stroke-width="0.35" >0.6</text>
<text x="218.8" y="411.02" font-size="10.9" text-anchor="end" font-weight="normal" stroke="#000" stroke-width="0.35" >0.3</text>
<text x="256.38" y="449.8" font-size="10.6" text-anchor="middle" font-weight="normal" stroke="#000" stroke-width="0.35" >5</text>
<text x="287.95" y="449.8" font-size="10.6" text-anchor="middle" font-weight="normal" stroke="#000" stroke-width="0.35" >10</text>
<text x="319.53" y="449.8" font-size="10.6" text-anchor="middle" font-weight="normal" stroke="#000" stroke-width="0.35" >15</text>
<path d="M243.75 405.8V420.6M242.15 405.8H245.34M242.15 420.6H245.34" stroke="#333" stroke-width="0.9" fill="none"/>
<path d="M269 398.5V425.4M267.4 398.5H270.61M267.4 425.4H270.61" stroke="#333" stroke-width="0.9" fill="none"/>
<path d="M294.26 400.4V422.5M292.66 400.4H295.87M292.66 422.5H295.87" stroke="#333" stroke-width="0.9" fill="none"/>
<path d="M319.53 399V412M317.93 399H321.13M317.93 412H321.13" stroke="#333" stroke-width="0.9" fill="none"/>
<polyline points="224.8,339.7 243.75,430.5 269,431.9 294.26,433.5 319.53,434.6" fill="none" stroke="#000" stroke-width="2.1" stroke-dasharray="4 3"/>
<polyline points="224.8,331 243.75,414.7 269,412 294.26,411.2 319.53,405.8" fill="none" stroke="#000" stroke-width="2.2"/>
<circle cx="224.8" cy="339.7" r="2.9" fill="#000"/>
<circle cx="243.75" cy="430.5" r="2.9" fill="#000"/>
<circle cx="269" cy="431.9" r="2.9" fill="#000"/>
<circle cx="294.26" cy="433.5" r="2.9" fill="#000"/>
<circle cx="319.53" cy="434.6" r="2.9" fill="#000"/>
<path d="M224.8 328 L228.05 334 L221.55 334Z" fill="#000"/>
<path d="M243.75 411.7 L247 417.7 L240.5 417.7Z" fill="#000"/>
<path d="M269 409 L272.25 415 L265.75 415Z" fill="#000"/>
<path d="M294.26 408.2 L297.51 414.2 L291.01 414.2Z" fill="#000"/>
<path d="M319.53 402.8 L322.78 408.8 L316.28 408.8Z" fill="#000"/>
<rect x="390.3" y="322" width="127" height="113.4" fill="#d3d3d3"/>
<line x1="390.3" x2="517.3" y1="350.35" y2="350.35" stroke="#747474" stroke-width="1.35"/>
<line x1="390.3" x2="517.3" y1="378.7" y2="378.7" stroke="#747474" stroke-width="1.35"/>
<line x1="390.3" x2="517.3" y1="407.05" y2="407.05" stroke="#747474" stroke-width="1.35"/>
<line x1="390.3" x2="517.8" y1="322" y2="322" stroke="#7a7a7a" stroke-width="1.4"/>
<line x1="517.3" x2="517.3" y1="322" y2="435.4" stroke="#9c9c9c" stroke-width="1.2"/>
<line x1="390.3" x2="390.3" y1="322" y2="435.4" stroke="#a0a0a0" stroke-width="0.8"/>
<line x1="388.3" x2="517.3" y1="435.7" y2="435.7" stroke="#c4c4c4" stroke-width="0.8"/>
<text x="382.8" y="326.1" font-size="10.9" text-anchor="end" font-weight="normal" stroke="#000" stroke-width="0.35" >4.8</text>
<text x="382.8" y="354.45" font-size="10.9" text-anchor="end" font-weight="normal" stroke="#000" stroke-width="0.35" >3.6</text>
<text x="382.8" y="382.8" font-size="10.9" text-anchor="end" font-weight="normal" stroke="#000" stroke-width="0.35" >2.4</text>
<text x="382.8" y="411.15" font-size="10.9" text-anchor="end" font-weight="normal" stroke="#000" stroke-width="0.35" >1.2</text>
<text x="422.05" y="449.8" font-size="10.6" text-anchor="middle" font-weight="normal" stroke="#000" stroke-width="0.35" >5</text>
<text x="453.8" y="449.8" font-size="10.6" text-anchor="middle" font-weight="normal" stroke="#000" stroke-width="0.35" >10</text>
<text x="485.55" y="449.8" font-size="10.6" text-anchor="middle" font-weight="normal" stroke="#000" stroke-width="0.35" >15</text>
<path d="M409.35 363.3V383M407.75 363.3H410.95M407.75 383H410.95" stroke="#333" stroke-width="0.9" fill="none"/>
<path d="M434.75 360.2V396.4M433.15 360.2H436.35M433.15 396.4H436.35" stroke="#333" stroke-width="0.9" fill="none"/>
<path d="M460.15 365.2V392.1M458.55 365.2H461.75M458.55 392.1H461.75" stroke="#333" stroke-width="0.9" fill="none"/>
<path d="M485.55 333.6V357.4M483.95 333.6H487.15M483.95 357.4H487.15" stroke="#333" stroke-width="0.9" fill="none"/>
<path d="M409.35 421V435M407.75 421H410.95M407.75 435H410.95" stroke="#333" stroke-width="0.9" fill="none"/>
<path d="M434.75 424V431M433.15 424H436.35M433.15 431H436.35" stroke="#333" stroke-width="0.9" fill="none"/>
<polyline points="390.3,369.5 409.35,427.5 434.75,427.5 460.15,428 485.55,433.7" fill="none" stroke="#000" stroke-width="2.1" stroke-dasharray="4 3"/>
<polyline points="390.3,364.4 409.35,373.2 434.75,378.5 460.15,378.8 485.55,345.6" fill="none" stroke="#000" stroke-width="2.2"/>
<circle cx="390.3" cy="369.5" r="2.9" fill="#000"/>
<circle cx="409.35" cy="427.5" r="2.9" fill="#000"/>
<circle cx="434.75" cy="427.5" r="2.9" fill="#000"/>
<circle cx="460.15" cy="428" r="2.9" fill="#000"/>
<circle cx="485.55" cy="433.7" r="2.9" fill="#000"/>
<path d="M390.3 361.4 L393.55 367.4 L387.05 367.4Z" fill="#000"/>
<path d="M409.35 370.2 L412.6 376.2 L406.1 376.2Z" fill="#000"/>
<path d="M434.75 375.5 L438 381.5 L431.5 381.5Z" fill="#000"/>
<path d="M460.15 375.8 L463.4 381.8 L456.9 381.8Z" fill="#000"/>
<path d="M485.55 342.6 L488.8 348.6 L482.3 348.6Z" fill="#000"/>
<line x1="27.9" x2="27.9" y1="321.2" y2="440.3" stroke="#000" stroke-width="2.7"/>
<line x1="51.5" x2="517.1" y1="468" y2="468" stroke="#000" stroke-width="2.6"/>
<text x="233.2" y="489.6" font-size="15.6" text-anchor="start" font-weight="normal" stroke="#000" stroke-width="0.45" textLength="102.8" lengthAdjust="spacingAndGlyphs">days in culture</text>
<text transform="translate(16 443.3) rotate(-90)" font-size="15.4" stroke="#000" stroke-width="0.45" textLength="127" lengthAdjust="spacingAndGlyphs">cell number (x10<tspan font-size="8.6" dy="-5.4">7</tspan><tspan dy="5.4">)</tspan></text>
<text x="117.75" y="283.4" font-size="19.3" text-anchor="middle" font-weight="normal" stroke="#000" stroke-width="0.45" textLength="86.2" lengthAdjust="spacingAndGlyphs">Lymphoid</text>
<text x="117.75" y="306" font-size="19.3" text-anchor="middle" font-weight="normal" stroke="#000" stroke-width="0.45" textLength="40.6" lengthAdjust="spacingAndGlyphs">cells</text>
<text x="288" y="283.4" font-size="19.3" text-anchor="middle" font-weight="normal" stroke="#000" stroke-width="0.45" textLength="88.6" lengthAdjust="spacingAndGlyphs">Precursor</text>
<text x="288" y="306" font-size="19.3" text-anchor="middle" font-weight="normal" stroke="#000" stroke-width="0.45" textLength="40.6" lengthAdjust="spacingAndGlyphs">cells</text>
<text x="451" y="283.4" font-size="19.3" text-anchor="middle" font-weight="normal" stroke="#000" stroke-width="0.45" textLength="69.8" lengthAdjust="spacingAndGlyphs">Myeloid</text>
<text x="451" y="306" font-size="19.3" text-anchor="middle" font-weight="normal" stroke="#000" stroke-width="0.45" textLength="40.6" lengthAdjust="spacingAndGlyphs">cells</text>
</svg></body></html>
